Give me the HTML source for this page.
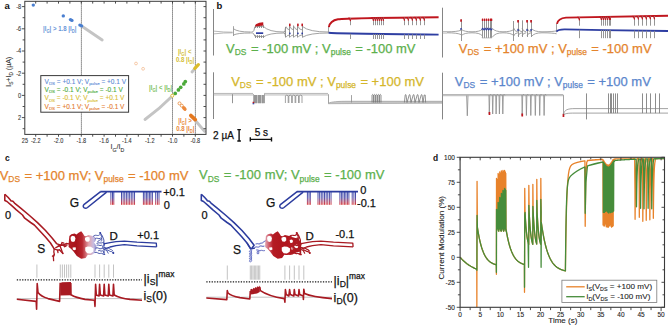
<!DOCTYPE html>
<html><head><meta charset="utf-8"><style>
html,body{margin:0;padding:0;background:#fff;}
svg{display:block;font-family:"Liberation Sans",sans-serif;}
</style></head><body>
<svg width="668" height="326" viewBox="0 0 668 326">
<rect width="668" height="326" fill="#fff"/>
<defs></defs>
<clipPath id="dclip"><rect x="460.1" y="157.3" width="204.39999999999998" height="150.0"/></clipPath>
<g clip-path="url(#dclip)">
<path d="M460.1,257.3 L460.53,257.78 L460.96,258.26 L461.38,258.72 L461.81,259.16 L462.24,259.6 L462.67,260.02 L463.09,260.44 L463.52,260.84 L463.95,261.23 L464.38,261.61 L464.81,261.98 L465.23,262.34 L465.66,262.7 L466.09,263.04 L466.52,263.37 L466.94,263.7 L467.37,264.02 L467.8,264.32 L468.23,264.62 L468.66,264.92 L469.08,265.2 L469.51,265.48 L469.94,265.75 L470.37,266.01 L470.79,266.27 L471.22,266.52 L471.65,266.76 L472.08,267 L472.51,267.23 L472.93,267.45 L473.36,267.67 L473.79,267.88 L474.22,268.09 L474.64,268.29 L475.07,268.48 L475.5,268.68 L475.93,268.86 L476.36,269.04 L476.78,269.22 L476.86,307.3 L477.06,181.3 L477.39,227.3 L477.39,227.3 L477.59,228.64 L477.79,229.93 L478,231.17 L478.2,232.38 L478.4,233.54 L478.6,234.66 L478.81,235.74 L479.01,236.79 L479.21,237.8 L479.42,238.78 L479.62,239.72 L479.82,240.63 L480.03,241.51 L480.23,242.36 L480.43,243.18 L480.64,243.97 L480.84,244.74 L481.04,245.47 L481.25,246.19 L481.45,246.88 L481.65,247.54 L481.86,248.18 L482.06,248.8 L482.26,249.4 L482.47,249.98 L482.67,250.54 L482.87,251.08 L483.07,251.6 L483.28,252.11 L483.48,252.59 L483.68,253.06 L483.89,253.52 L484.09,253.95 L484.29,254.38 L484.5,254.78 L484.7,255.18 L484.9,255.56 L485.11,255.93 L485.31,256.28 L485.51,256.63 L485.72,256.96 L485.92,257.28 L486.12,257.59 L486.33,257.89 L486.53,258.17 L486.73,258.45 L486.93,258.72 L487.14,258.98 L487.34,259.23 L487.54,259.47 L487.75,259.71 L487.95,259.93 L488.15,260.15 L488.36,260.36 L488.56,260.56 L488.76,260.76 L488.97,260.95 L489.17,261.13 L489.37,261.31 L489.58,261.48 L489.78,261.65 L489.98,261.81 L490.19,261.96 L490.39,262.11 L490.59,262.25 L490.79,262.39 L491,262.53 L491.2,262.65 L491.4,262.78 L491.61,262.9 L491.81,263.02 L492.01,263.13 L492.22,263.24 L492.42,263.34 L492.62,263.44 L492.83,263.54 L493.03,263.64 L493.23,263.73 L493.44,263.82 L493.64,263.9 L493.84,263.98 L494.05,264.06 L494.25,264.14 L494.45,264.21 L494.65,264.28 L494.86,264.35 L495.06,264.42 L495.26,264.48 L495.47,264.55 L495.67,264.61 L495.87,264.66 L496.08,264.72 L496.28,264.77 L496.4,274.3 L496.52,178.3 L496.72,229.3 L496.92,179.3 L497.12,227.62 L497.33,180.3 L497.53,227.48 L497.73,181.3 L497.93,229.02 L498.13,173.3 L498.33,230.81 L498.53,174.3 L498.73,231.22 L498.93,175.3 L499.13,229.86 L499.34,176.3 L499.54,227.99 L499.74,171.8 L499.94,227.32 L500.14,172.8 L500.34,228.48 L500.54,173.8 L500.74,230.39 L500.94,174.8 L501.14,231.3 L501.35,170.8 L501.55,230.37 L501.75,171.8 L501.95,228.46 L502.15,172.8 L502.35,227.32 L502.55,173.8 L502.75,228 L502.95,170.3 L503.15,229.88 L503.36,171.3 L503.56,231.22 L503.76,172.3 L503.96,230.8 L504.16,173.3 L504.36,229 L504.56,170.3 L504.76,227.47 L504.96,171.3 L505.16,227.63 L505.37,172.3 L505.57,229.32 L505.77,173.3 L505.97,230.99 L505.73,227.3 L505.93,228.59 L506.13,229.84 L506.34,231.05 L506.54,232.22 L506.74,233.35 L506.95,234.44 L507.15,235.49 L507.35,236.52 L507.56,237.5 L507.76,238.46 L507.96,239.38 L508.17,240.27 L508.37,241.13 L508.57,241.97 L508.77,242.77 L508.98,243.55 L509.18,244.31 L509.38,245.04 L509.59,245.74 L509.79,246.42 L509.99,247.08 L510.2,247.72 L510.4,248.33 L510.6,248.93 L510.81,249.5 L511.01,250.06 L511.21,250.6 L511.42,251.12 L511.62,251.62 L511.82,252.11 L512.03,252.58 L512.23,253.03 L512.43,253.47 L512.64,253.9 L512.84,254.31 L513.04,254.71 L513.24,255.09 L513.45,255.46 L513.65,255.82 L513.85,256.17 L514.06,256.5 L514.26,256.83 L514.46,257.14 L514.67,257.45 L514.87,257.74 L515.07,258.02 L515.28,258.3 L515.48,258.56 L515.68,258.82 L515.89,259.07 L516.09,259.31 L516.29,259.54 L516.5,259.76 L516.7,259.98 L516.9,260.19 L517.11,260.39 L517.31,260.59 L517.51,260.78 L517.71,260.96 L517.92,261.14 L518.12,261.31 L518.32,261.47 L518.53,261.63 L518.73,261.79 L518.93,261.94 L519.14,262.08 L519.34,262.22 L519.54,262.36 L519.75,262.49 L519.95,262.61 L520.15,262.73 L520.36,262.85 L520.56,262.97 L520.76,263.08 L520.97,263.18 L521.17,263.29 L521.37,263.39 L521.58,263.48 L521.78,263.58 L521.98,263.67 L522.18,263.75 L522.39,263.84 L522.59,263.92 L522.79,264 L523,264.08 L523.2,264.15 L523.4,264.22 L523.61,264.29 L523.81,264.36 L524.01,264.42 L524.22,264.48 L524.42,264.54 L524.5,292.3 L524.74,188.3 L525.06,212.3 L525.06,212.3 L525.28,216.49 L525.5,220.21 L525.72,223.51 L525.93,226.43 L526.15,229.02 L526.37,231.32 L526.59,233.36 L526.8,235.16 L527.02,236.76 L527.24,238.18 L527.46,239.44 L527.67,240.56 L527.89,241.55 L528.11,242.43 L528.33,243.21 L528.54,243.9 L528.76,244.51 L528.84,185.3 L529.16,212.3 L529.16,212.3 L529.38,216.41 L529.59,220.06 L529.8,223.3 L530.01,226.19 L530.23,228.75 L530.44,231.03 L530.65,233.06 L530.87,234.86 L531.08,236.47 L531.29,237.89 L531.5,239.16 L531.72,240.28 L531.93,241.28 L532.14,242.17 L532.36,242.96 L532.57,243.67 L532.78,244.29 L532.86,184.3 L533.18,212.3 L533.18,212.3 L533.4,216.56 L533.63,220.32 L533.85,223.66 L534.07,226.61 L534.29,229.22 L534.51,231.53 L534.73,233.57 L534.95,235.38 L535.17,236.98 L535.39,238.4 L535.62,239.65 L535.84,240.76 L536.06,241.75 L536.28,242.62 L536.5,243.38 L536.72,244.07 L536.8,179.3 L537.12,212.3 L537.12,212.3 L537.34,216.41 L537.55,220.06 L537.76,223.3 L537.97,226.19 L538.19,228.75 L538.4,231.03 L538.61,233.06 L538.83,234.86 L539.04,236.47 L539.25,237.89 L539.46,239.16 L539.68,240.28 L539.89,241.28 L540.1,242.17 L540.32,242.96 L540.53,243.67 L540.74,244.29 L540.82,178.3 L541.14,212.3 L541.3,222.3 L541.51,223.76 L541.71,225.18 L541.91,226.56 L542.11,227.89 L542.32,229.19 L542.52,230.45 L542.72,231.67 L542.93,232.86 L543.13,234.01 L543.33,235.13 L543.53,236.22 L543.74,237.27 L543.94,238.3 L544.14,239.29 L544.34,240.26 L544.55,241.19 L544.75,242.1 L544.95,242.98 L545.16,243.84 L545.36,244.67 L545.56,245.48 L545.76,246.26 L545.97,247.02 L546.17,247.76 L546.37,248.48 L546.57,249.18 L546.78,249.85 L546.98,250.51 L547.18,251.14 L547.38,251.76 L547.59,252.36 L547.79,252.95 L547.99,253.51 L548.2,254.06 L548.4,254.59 L548.6,255.11 L548.8,255.61 L549.01,256.1 L549.21,256.57 L549.41,257.03 L549.61,257.48 L549.82,257.91 L550.02,258.33 L550.22,258.74 L550.43,259.14 L550.63,259.52 L550.83,259.9 L551.03,260.26 L551.24,260.61 L551.44,260.95 L551.64,261.28 L551.84,261.61 L552.05,261.92 L552.25,262.22 L552.45,262.52 L552.65,262.8 L552.86,263.08 L553.06,263.35 L553.26,263.61 L553.47,263.86 L553.67,264.11 L553.87,264.35 L554.07,264.58 L554.28,264.81 L554.48,265.03 L554.68,265.24 L554.88,265.45 L555.09,265.65 L555.29,265.84 L555.49,266.03 L555.69,266.21 L555.9,266.39 L556.1,266.56 L556.3,266.73 L556.51,266.89 L556.71,267.05 L556.91,267.2 L557.11,267.35 L557.32,267.5 L557.52,267.64 L557.72,267.77 L557.92,267.91 L558.13,268.04 L558.33,268.16 L558.53,268.28 L558.74,268.4 L558.94,268.51 L559.14,268.62 L559.34,268.73 L559.55,268.83 L559.75,268.94 L559.95,269.03 L560.15,269.13 L560.36,269.22 L560.56,269.31 L560.76,269.4 L560.96,269.48 L561.17,269.57 L561.37,269.65 L561.57,269.72 L561.78,269.8 L561.98,269.87 L562.18,269.94 L562.38,270.01 L562.59,270.08 L562.79,270.14 L562.99,270.21 L563.19,270.27 L563.4,270.33 L563.6,270.39 L563.8,270.44 L564.01,270.5 L564.21,270.55 L564.41,270.6 L564.61,270.65 L564.82,270.7 L565.02,270.74 L565.22,270.79 L565.42,270.83 L565.42,269.3 L565.59,256.49 L565.75,245.26 L565.91,235.43 L566.07,226.82 L566.24,219.27 L566.4,212.65 L566.56,206.85 L566.72,201.76 L566.89,197.3 L567.05,193.38 L567.21,189.94 L567.37,186.93 L567.54,184.28 L567.7,181.95 L567.86,179.9 L568.02,178.09 L568.19,176.51 L568.35,175.11 L568.51,173.87 L568.67,172.78 L568.84,171.82 L569,170.97 L569.16,170.21 L569.32,169.54 L569.49,168.95 L569.65,168.42 L569.81,167.94 L569.97,167.52 L570.14,167.14 L570.3,166.8 L570.46,166.5 L570.62,166.22 L570.79,165.97 L570.95,165.74 L571.11,165.53 L571.27,165.34 L571.44,165.17 L571.6,165.01 L571.76,164.86 L571.92,164.73 L572.09,164.6 L572.25,164.48 L572.41,164.37 L572.57,164.26 L572.74,164.16 L572.9,164.07 L573.06,163.98 L573.22,163.9 L573.39,163.81 L573.55,163.74 L573.71,163.66 L573.87,163.59 L574.04,163.52 L574.2,163.45 L574.36,163.39 L574.52,163.32 L574.69,163.26 L574.85,163.2 L575.01,163.14 L575.17,163.08 L575.33,163.03 L575.5,162.97 L575.66,162.92 L575.82,162.87 L575.98,162.81 L576.15,162.76 L576.31,162.71 L576.47,162.66 L576.63,162.61 L576.8,162.57 L576.96,162.52 L577.12,162.47 L577.28,162.43 L577.45,162.38 L577.61,162.34 L577.77,162.29 L577.93,162.25 L578.1,162.21 L578.26,162.17 L578.42,162.13 L578.58,162.09 L578.75,162.05 L578.91,162.01 L579.07,161.97 L579.23,161.93 L579.4,161.89 L579.56,161.85 L579.72,161.81 L579.88,161.78 L580.05,161.74 L580.21,161.71 L580.37,161.67 L580.53,161.64 L580.7,161.6 L580.86,161.57 L581.02,161.53 L581.18,161.5 L581.35,161.47 L581.51,161.44 L581.67,161.4 L581.83,161.37 L582,161.34 L582.16,161.31 L582.32,161.28 L582.48,161.25 L582.65,161.22 L582.81,161.19 L582.97,161.16 L583.13,161.13 L583.3,161.11 L583.46,161.08 L583.62,161.05 L583.78,161.02 L583.95,161 L584.11,160.97 L584.27,160.94 L584.43,160.92 L584.6,160.89 L584.76,160.87 L584.92,160.84 L585.2,226.3 L585.73,177.3 L586.73,162.59 L587.53,160.48 L587.7,160.46 L587.86,160.44 L588.03,160.42 L588.19,160.4 L588.35,160.38 L588.52,160.36 L588.68,160.35 L588.84,160.33 L589.01,160.31 L589.17,160.29 L589.34,160.27 L589.5,160.25 L589.66,160.24 L589.83,160.22 L589.99,160.2 L590.16,160.19 L590.32,160.17 L590.48,160.15 L590.65,160.14 L590.81,160.12 L590.98,160.1 L591.14,160.09 L591.3,160.07 L591.47,160.06 L591.63,160.04 L591.79,160.03 L591.96,160.01 L592.12,160 L592.29,159.98 L592.45,159.97 L592.61,159.95 L592.78,159.94 L592.94,159.93 L593.11,159.91 L593.27,159.9 L593.43,159.89 L593.6,159.87 L593.76,159.86 L593.92,159.85 L594.09,159.83 L594.25,159.82 L594.42,159.81 L594.58,159.8 L594.74,159.79 L594.91,159.77 L595.07,159.76 L595.24,159.75 L595.4,159.74 L595.56,159.73 L595.73,159.72 L595.89,159.7 L596.05,159.69 L596.22,159.68 L596.38,159.67 L596.55,159.66 L596.71,159.65 L596.87,159.64 L597.04,159.63 L597.2,159.62 L597.37,159.61 L597.53,159.6 L597.69,159.59 L597.86,159.58 L598.02,159.57 L598.18,159.56 L598.35,159.55 L598.51,159.54 L598.68,159.53 L598.84,159.53 L599,159.52 L599.17,159.51 L599.33,159.5 L599.5,159.49 L599.66,159.48 L599.82,159.47 L599.99,159.47 L600.15,159.46 L600.31,159.45 L600.48,159.44 L600.64,159.43 L600.81,159.42 L600.97,159.42 L601.13,159.41 L601.3,159.4 L601.46,159.39 L601.63,159.39 L601.79,159.38 L601.95,159.37 L602.12,159.37 L602.28,159.36 L602.45,159.35 L602.61,159.34 L587.53,160.48 L587.7,160.46 L587.86,160.44 L588.02,160.42 L588.18,160.4 L588.35,160.38 L588.51,160.37 L588.67,160.35 L588.83,160.33 L589,160.31 L589.16,160.29 L589.32,160.27 L589.48,160.26 L589.65,160.24 L589.81,160.22 L589.97,160.2 L590.13,160.19 L590.3,160.17 L590.46,160.15 L590.62,160.14 L590.78,160.12 L590.95,160.11 L591.11,160.09 L591.27,160.08 L591.43,160.06 L591.6,160.05 L591.76,160.03 L591.92,160.02 L592.08,160 L592.25,159.99 L592.41,159.97 L592.57,159.96 L592.73,159.94 L592.9,159.93 L593.06,159.92 L593.22,159.9 L593.38,159.89 L593.55,159.88 L593.71,159.86 L593.87,159.85 L594.03,159.84 L594.2,159.83 L594.36,159.81 L594.52,159.8 L594.68,159.79 L594.85,159.78 L595.01,159.77 L595.17,159.75 L595.33,159.74 L595.5,159.73 L595.66,159.72 L595.82,159.71 L595.98,159.7 L596.15,159.69 L596.31,159.68 L596.47,159.67 L596.63,159.66 L596.8,159.65 L596.96,159.64 L597.12,159.63 L597.28,159.62 L597.45,159.61 L597.61,159.6 L597.77,159.59 L597.93,159.58 L598.1,159.57 L598.26,159.56 L598.42,159.55 L598.58,159.54 L598.75,159.53 L598.91,159.52 L599.07,159.51 L599.23,159.5 L599.4,159.5 L599.56,159.49 L599.72,159.48 L599.88,159.47 L600.05,159.46 L600.21,159.45 L600.37,159.45 L600.53,159.44 L600.7,159.43 L600.86,159.42 L601.02,159.41 L601.18,159.41 L601.35,159.4 L601.51,159.39 L601.67,159.38 L601.83,159.38 L602,159.37 L602.16,159.36 L602.32,159.36 L602.48,159.35 L602.65,159.34 L602.81,159.34 L602.96,159.8 L603.08,225.1 L603.24,159.8 L603.49,160.7 L603.61,224.47 L603.77,160.7 L604.02,161.58 L604.14,226.14 L604.3,161.58 L604.55,162.4 L604.67,225.26 L604.84,162.4 L605.09,163.14 L605.21,223.73 L605.37,163.14 L605.62,163.79 L605.74,223.71 L605.9,163.79 L606.15,164.32 L606.27,226.8 L606.43,164.32 L606.68,164.73 L606.8,226.47 L606.97,164.73 L607.22,165.01 L607.34,227.09 L607.5,165.01 L607.75,165.14 L607.87,225.54 L608.03,165.14 L608.28,165.12 L608.4,227.18 L608.56,165.12 L608.81,164.96 L608.94,225.47 L609.1,164.96 L609.35,164.66 L609.47,224.7 L609.63,164.66 L609.88,164.21 L610,226.19 L610.16,164.21 L610.41,163.65 L610.53,224.59 L610.69,163.65 L610.95,162.97 L611.07,224.94 L611.23,162.97 L611.48,162.19 L611.6,227.2 L611.76,162.19 L612.01,161.34 L612.13,225.06 L612.29,161.34 L612.54,160.44 L612.66,226.26 L612.82,160.44 L613.08,159.49 L613.2,225.64 L613.36,159.49 L613.87,160.01 L614.67,158.99 L614.83,158.99 L614.99,158.99 L615.16,158.99 L615.32,158.98 L615.48,158.98 L615.65,158.98 L615.81,158.97 L615.97,158.97 L616.13,158.97 L616.3,158.96 L616.46,158.96 L616.62,158.96 L616.78,158.96 L616.95,158.95 L617.11,158.95 L617.27,158.95 L617.44,158.95 L617.6,158.94 L617.76,158.94 L617.92,158.94 L618.09,158.93 L618.25,158.93 L618.41,158.93 L618.58,158.93 L618.74,158.92 L618.9,158.92 L619.06,158.92 L619.23,158.92 L619.39,158.92 L619.55,158.91 L619.71,158.91 L619.88,158.91 L620.04,158.91 L620.2,158.9 L620.37,158.9 L620.53,158.9 L620.69,158.9 L620.85,158.89 L621.02,158.89 L621.18,158.89 L621.34,158.89 L621.5,158.89 L621.67,158.88 L621.83,158.88 L621.99,158.88 L622.16,158.88 L622.32,158.88 L622.48,158.87 L622.64,158.87 L622.81,158.87 L622.97,158.87 L623.13,158.87 L623.3,158.86 L623.46,158.86 L623.62,158.86 L623.78,158.86 L623.95,158.86 L624.11,158.86 L624.27,158.85 L624.43,158.85 L624.6,158.85 L624.76,158.85 L624.92,158.85 L625.09,158.84 L625.25,158.84 L625.41,158.84 L625.57,158.84 L625.74,158.84 L625.9,158.84 L626.06,158.83 L626.23,158.83 L626.39,158.83 L626.55,158.83 L626.71,158.83 L626.88,158.83 L627.04,158.82 L627.2,158.82 L627.36,158.82 L627.53,158.82 L627.69,158.82 L627.85,158.82 L628.02,158.82 L628.18,158.81 L628.34,158.81 L628.5,158.81 L628.67,158.81 L628.83,158.81 L628.99,158.81 L629.15,158.81 L629.32,158.8 L629.48,158.8 L629.64,158.8 L629.81,158.8 L629.97,158.8 L630.13,158.8 L630.29,158.8 L630.46,158.8 L630.62,158.79 L630.78,158.79 L630.95,158.79 L631.11,158.79 L631.27,158.79 L631.43,158.79 L631.6,158.79 L631.76,158.79 L631.92,158.78 L632.08,158.78 L632.25,158.78 L632.41,158.78 L632.57,158.78 L632.74,158.78 L632.9,158.78 L633.06,158.78 L633.22,158.77 L633.39,158.77 L633.55,158.77 L633.71,158.77 L633.87,158.77 L634.04,158.77 L634.2,158.77 L634.36,158.77 L634.53,158.77 L634.69,158.76 L634.77,173.9 L634.97,189.03 L635.09,219.3 L635.25,204.26 L635.46,190.31 L635.66,180.64 L635.87,173.93 L636.08,169.28 L636.28,166.06 L636.49,163.82 L636.69,162.27 L636.9,161.19 L637.1,158.75 L637.28,158.75 L637.46,158.75 L637.64,158.75 L637.82,158.75 L638.01,158.75 L638.19,158.74 L638.37,158.74 L638.55,158.74 L638.73,158.74 L638.91,158.74 L638.99,173.38 L639.19,188.02 L639.31,217.3 L639.47,202.75 L639.68,189.26 L639.88,179.9 L640.09,173.41 L640.3,168.91 L640.5,165.8 L640.71,163.63 L640.91,162.13 L641.12,161.09 L641.32,158.73 L641.54,158.73 L641.76,158.73 L641.97,158.73 L642.19,158.72 L642.41,158.72 L642.49,174.37 L642.69,190.01 L642.81,221.3 L642.97,205.75 L643.18,191.33 L643.38,181.34 L643.59,174.4 L643.79,169.6 L644,166.26 L644.21,163.95 L644.41,162.35 L644.62,161.24 L644.82,158.71 L645.02,158.71 L645.22,158.71 L645.42,158.71 L645.62,158.71 L645.82,158.71 L645.9,174.11 L646.11,189.5 L646.23,220.3 L646.39,204.99 L646.59,190.8 L646.8,180.96 L647,174.14 L647.21,169.41 L647.42,166.13 L647.62,163.85 L647.83,162.28 L648.03,161.18 L648.24,158.7 L648.44,158.7 L648.64,158.7 L648.84,158.7 L649.04,158.7 L649.24,158.7 L649.44,158.7 L649.52,173.97 L649.72,189.25 L649.84,219.8 L650,204.61 L650.21,190.54 L650.42,180.78 L650.62,174.01 L650.83,169.31 L651.03,166.06 L651.24,163.8 L651.45,162.24 L651.65,161.15 L651.85,158.69 L652.07,158.69 L652.29,158.69 L652.51,158.69 L652.72,158.69 L652.94,158.68 L653.02,173.59 L653.22,188.49 L653.34,218.3 L653.5,203.48 L653.71,189.75 L653.91,180.23 L654.12,173.62 L654.33,169.04 L654.53,165.87 L654.74,163.67 L654.94,162.14 L655.15,161.08 L655.35,158.68 L655.52,158.68 L655.68,158.68 L655.84,158.68 L656.01,158.68 L656.17,158.68 L656.34,158.68 L656.5,158.67 L656.67,158.67 L656.83,158.67 L656.99,158.67 L657.16,158.67 L657.32,158.67 L657.49,158.67 L657.65,158.67 L657.82,158.67 L657.98,158.67 L658.14,158.67 L658.31,158.67 L658.47,158.67 L658.64,158.67 L658.8,158.67 L658.97,158.67 L659.13,158.67 L659.3,158.67 L659.46,158.67 L659.62,158.67 L659.79,158.67 L659.95,158.67 L660.12,158.67 L660.28,158.67 L660.45,158.67 L660.61,158.67 L660.77,158.66 L660.94,158.66 L661.1,158.66 L661.27,158.66 L661.43,158.66 L661.6,158.66 L661.76,158.66 L661.92,158.66 L662.09,158.66 L662.25,158.66 L662.42,158.66 L662.58,158.66 L662.75,158.66 L662.91,158.66 L663.07,158.66 L663.24,158.66 L663.4,158.66 L663.57,158.66 L663.73,158.66 L663.9,158.66 L664.06,158.66 L664.23,158.66 L664.39,158.66 L664.55,158.66 L664.72,158.66" fill="none" stroke="#e8822a" stroke-width="1.3" stroke-linejoin="round"/>
<path d="M460.1,257.3 L460.53,257.78 L460.96,258.26 L461.38,258.72 L461.81,259.16 L462.24,259.6 L462.67,260.02 L463.09,260.44 L463.52,260.84 L463.95,261.23 L464.38,261.61 L464.81,261.98 L465.23,262.34 L465.66,262.7 L466.09,263.04 L466.52,263.37 L466.94,263.7 L467.37,264.02 L467.8,264.32 L468.23,264.62 L468.66,264.92 L469.08,265.2 L469.51,265.48 L469.94,265.75 L470.37,266.01 L470.79,266.27 L471.22,266.52 L471.65,266.76 L472.08,267 L472.51,267.23 L472.93,267.45 L473.36,267.67 L473.79,267.88 L474.22,268.09 L474.64,268.29 L475.07,268.48 L475.5,268.68 L475.93,268.86 L476.36,269.04 L476.78,269.22 L476.9,270.3 L477.06,215.3 L477.39,227.3 L477.39,227.3 L477.59,228.64 L477.79,229.93 L478,231.17 L478.2,232.38 L478.4,233.54 L478.6,234.66 L478.81,235.74 L479.01,236.79 L479.21,237.8 L479.42,238.78 L479.62,239.72 L479.82,240.63 L480.03,241.51 L480.23,242.36 L480.43,243.18 L480.64,243.97 L480.84,244.74 L481.04,245.47 L481.25,246.19 L481.45,246.88 L481.65,247.54 L481.86,248.18 L482.06,248.8 L482.26,249.4 L482.47,249.98 L482.67,250.54 L482.87,251.08 L483.07,251.6 L483.28,252.11 L483.48,252.59 L483.68,253.06 L483.89,253.52 L484.09,253.95 L484.29,254.38 L484.5,254.78 L484.7,255.18 L484.9,255.56 L485.11,255.93 L485.31,256.28 L485.51,256.63 L485.72,256.96 L485.92,257.28 L486.12,257.59 L486.33,257.89 L486.53,258.17 L486.73,258.45 L486.93,258.72 L487.14,258.98 L487.34,259.23 L487.54,259.47 L487.75,259.71 L487.95,259.93 L488.15,260.15 L488.36,260.36 L488.56,260.56 L488.76,260.76 L488.97,260.95 L489.17,261.13 L489.37,261.31 L489.58,261.48 L489.78,261.65 L489.98,261.81 L490.19,261.96 L490.39,262.11 L490.59,262.25 L490.79,262.39 L491,262.53 L491.2,262.65 L491.4,262.78 L491.61,262.9 L491.81,263.02 L492.01,263.13 L492.22,263.24 L492.42,263.34 L492.62,263.44 L492.83,263.54 L493.03,263.64 L493.23,263.73 L493.44,263.82 L493.64,263.9 L493.84,263.98 L494.05,264.06 L494.25,264.14 L494.45,264.21 L494.65,264.28 L494.86,264.35 L495.06,264.42 L495.26,264.48 L495.47,264.55 L495.67,264.61 L495.87,264.66 L496.08,264.72 L496.28,264.77 L496.4,272.3 L496.52,209.3 L496.72,229.3 L496.92,209.97 L497.12,227.62 L497.33,210.63 L497.53,227.48 L497.73,211.3 L497.93,229.02 L498.13,202.3 L498.33,230.81 L498.53,202.97 L498.73,231.22 L498.93,203.63 L499.13,229.86 L499.34,204.3 L499.54,227.99 L499.74,197.3 L499.94,227.32 L500.14,197.97 L500.34,228.48 L500.54,198.63 L500.74,230.39 L500.94,199.3 L501.14,231.3 L501.35,193.3 L501.55,230.37 L501.75,193.97 L501.95,228.46 L502.15,194.63 L502.35,227.32 L502.55,195.3 L502.75,228 L502.95,190.3 L503.15,229.88 L503.36,190.97 L503.56,231.22 L503.76,191.63 L503.96,230.8 L504.16,192.3 L504.36,229 L504.56,188.3 L504.76,227.47 L504.96,188.97 L505.16,227.63 L505.37,189.63 L505.57,229.32 L505.77,190.3 L505.97,230.99 L505.73,227.3 L505.93,228.59 L506.13,229.84 L506.34,231.05 L506.54,232.22 L506.74,233.35 L506.95,234.44 L507.15,235.49 L507.35,236.52 L507.56,237.5 L507.76,238.46 L507.96,239.38 L508.17,240.27 L508.37,241.13 L508.57,241.97 L508.77,242.77 L508.98,243.55 L509.18,244.31 L509.38,245.04 L509.59,245.74 L509.79,246.42 L509.99,247.08 L510.2,247.72 L510.4,248.33 L510.6,248.93 L510.81,249.5 L511.01,250.06 L511.21,250.6 L511.42,251.12 L511.62,251.62 L511.82,252.11 L512.03,252.58 L512.23,253.03 L512.43,253.47 L512.64,253.9 L512.84,254.31 L513.04,254.71 L513.24,255.09 L513.45,255.46 L513.65,255.82 L513.85,256.17 L514.06,256.5 L514.26,256.83 L514.46,257.14 L514.67,257.45 L514.87,257.74 L515.07,258.02 L515.28,258.3 L515.48,258.56 L515.68,258.82 L515.89,259.07 L516.09,259.31 L516.29,259.54 L516.5,259.76 L516.7,259.98 L516.9,260.19 L517.11,260.39 L517.31,260.59 L517.51,260.78 L517.71,260.96 L517.92,261.14 L518.12,261.31 L518.32,261.47 L518.53,261.63 L518.73,261.79 L518.93,261.94 L519.14,262.08 L519.34,262.22 L519.54,262.36 L519.75,262.49 L519.95,262.61 L520.15,262.73 L520.36,262.85 L520.56,262.97 L520.76,263.08 L520.97,263.18 L521.17,263.29 L521.37,263.39 L521.58,263.48 L521.78,263.58 L521.98,263.67 L522.18,263.75 L522.39,263.84 L522.59,263.92 L522.79,264 L523,264.08 L523.2,264.15 L523.4,264.22 L523.61,264.29 L523.81,264.36 L524.01,264.42 L524.22,264.48 L524.42,264.54 L524.5,287.3 L524.74,214.3 L525.06,212.3 L525.06,212.3 L525.28,216.49 L525.5,220.21 L525.72,223.51 L525.93,226.43 L526.15,229.02 L526.37,231.32 L526.59,233.36 L526.8,235.16 L527.02,236.76 L527.24,238.18 L527.46,239.44 L527.67,240.56 L527.89,241.55 L528.11,242.43 L528.52,267.3 L528.64,243.9 L528.76,244.51 L528.84,205.3 L529.16,212.3 L529.16,212.3 L529.38,216.41 L529.59,220.06 L529.8,223.3 L530.01,226.19 L530.23,228.75 L530.44,231.03 L530.65,233.06 L530.87,234.86 L531.08,236.47 L531.29,237.89 L531.5,239.16 L531.72,240.28 L531.93,241.28 L532.14,242.17 L532.36,242.96 L532.57,243.67 L532.78,244.29 L532.86,206.3 L533.18,212.3 L533.18,212.3 L533.4,216.56 L533.63,220.32 L533.85,223.66 L534.07,226.61 L534.29,229.22 L534.51,231.53 L534.73,233.57 L534.95,235.38 L535.17,236.98 L535.39,238.4 L535.62,239.65 L535.84,240.76 L536.06,241.75 L536.28,242.62 L536.5,243.38 L536.72,244.07 L536.8,200.3 L537.12,212.3 L537.12,212.3 L537.34,216.41 L537.55,220.06 L537.76,223.3 L537.97,226.19 L538.19,228.75 L538.4,231.03 L538.61,233.06 L538.83,234.86 L539.04,236.47 L539.25,237.89 L539.46,239.16 L539.68,240.28 L539.89,241.28 L540.1,242.17 L540.32,242.96 L540.53,243.67 L540.74,244.29 L540.82,199.3 L541.14,212.3 L540.98,222.3 L541.1,267.3 L541.3,227.3 L541.3,222.3 L541.51,223.76 L541.71,225.18 L541.91,226.56 L542.11,227.89 L542.32,229.19 L542.52,230.45 L542.72,231.67 L542.93,232.86 L543.13,234.01 L543.33,235.13 L543.53,236.22 L543.74,237.27 L543.94,238.3 L544.14,239.29 L544.34,240.26 L544.55,241.19 L544.75,242.1 L544.95,242.98 L545.16,243.84 L545.36,244.67 L545.56,245.48 L545.76,246.26 L545.97,247.02 L546.17,247.76 L546.37,248.48 L546.57,249.18 L546.78,249.85 L546.98,250.51 L547.18,251.14 L547.38,251.76 L547.59,252.36 L547.79,252.95 L547.99,253.51 L548.2,254.06 L548.4,254.59 L548.6,255.11 L548.8,255.61 L549.01,256.1 L549.21,256.57 L549.41,257.03 L549.61,257.48 L549.82,257.91 L550.02,258.33 L550.22,258.74 L550.43,259.14 L550.63,259.52 L550.83,259.9 L551.03,260.26 L551.24,260.61 L551.44,260.95 L551.64,261.28 L551.84,261.61 L552.05,261.92 L552.25,262.22 L552.45,262.52 L552.65,262.8 L552.86,263.08 L553.06,263.35 L553.26,263.61 L553.47,263.86 L553.67,264.11 L553.87,264.35 L554.07,264.58 L554.28,264.81 L554.48,265.03 L554.68,265.24 L554.88,265.45 L555.09,265.65 L555.29,265.84 L555.49,266.03 L555.69,266.21 L555.9,266.39 L556.1,266.56 L556.3,266.73 L556.51,266.89 L556.71,267.05 L556.91,267.2 L557.11,267.35 L557.32,267.5 L557.52,267.64 L557.72,267.77 L557.92,267.91 L558.13,268.04 L558.33,268.16 L558.53,268.28 L558.74,268.4 L558.94,268.51 L559.14,268.62 L559.34,268.73 L559.55,268.83 L559.75,268.94 L559.95,269.03 L560.15,269.13 L560.36,269.22 L560.56,269.31 L560.76,269.4 L560.96,269.48 L561.17,269.57 L561.37,269.65 L561.57,269.72 L561.78,269.8 L561.98,269.87 L562.18,269.94 L562.38,270.01 L562.59,270.08 L562.79,270.14 L562.99,270.21 L563.19,270.27 L563.4,270.33 L563.6,270.39 L563.8,270.44 L564.01,270.5 L564.21,270.55 L564.41,270.6 L564.61,270.65 L564.82,270.7 L565.02,270.74 L565.22,270.79 L565.42,270.83 L565.42,269.3 L565.59,253.15 L565.75,239.9 L565.91,229.02 L566.07,220.07 L566.24,212.72 L566.4,206.67 L566.56,201.68 L566.72,197.57 L566.89,194.17 L567.05,191.35 L567.21,189.02 L567.37,187.08 L567.54,185.46 L567.7,184.11 L567.86,182.97 L568.02,182.01 L568.19,181.19 L568.35,180.5 L568.51,179.9 L568.67,179.38 L568.84,178.93 L569,178.53 L569.16,178.18 L569.32,177.86 L569.49,177.58 L569.65,177.32 L569.81,177.08 L569.97,176.85 L570.14,176.65 L570.3,176.45 L570.46,176.26 L570.62,176.08 L570.79,175.91 L570.95,175.75 L571.11,175.59 L571.27,175.43 L571.44,175.28 L571.6,175.13 L571.76,174.99 L571.92,174.85 L572.09,174.7 L572.25,174.57 L572.41,174.43 L572.57,174.3 L572.74,174.16 L572.9,174.03 L573.06,173.9 L573.22,173.77 L573.39,173.65 L573.55,173.52 L573.71,173.39 L573.87,173.27 L574.04,173.15 L574.2,173.03 L574.36,172.91 L574.52,172.79 L574.69,172.67 L574.85,172.55 L575.01,172.44 L575.17,172.32 L575.33,172.21 L575.5,172.1 L575.66,171.98 L575.82,171.87 L575.98,171.76 L576.15,171.65 L576.31,171.55 L576.47,171.44 L576.63,171.33 L576.8,171.23 L576.96,171.12 L577.12,171.02 L577.28,170.92 L577.45,170.81 L577.61,170.71 L577.77,170.61 L577.93,170.51 L578.1,170.42 L578.26,170.32 L578.42,170.22 L578.58,170.12 L578.75,170.03 L578.91,169.94 L579.07,169.84 L579.23,169.75 L579.4,169.66 L579.56,169.57 L579.72,169.48 L579.88,169.39 L580.05,169.3 L580.21,169.21 L580.37,169.12 L580.53,169.04 L580.7,168.95 L580.86,168.86 L581.02,168.78 L581.18,168.7 L581.35,168.61 L581.51,168.53 L581.67,168.45 L581.83,168.37 L582,168.29 L582.16,168.21 L582.32,168.13 L582.48,168.05 L582.65,167.97 L582.81,167.9 L582.97,167.82 L583.13,167.74 L583.3,167.67 L583.46,167.6 L583.62,167.52 L583.78,167.45 L583.95,167.38 L584.11,167.3 L584.27,167.23 L584.43,167.16 L584.6,167.09 L584.76,167.02 L584.92,166.95 L585.2,213.3 L585.93,182.3 L587.13,169.07 L587.53,165.92 L587.7,165.86 L587.86,165.8 L588.03,165.74 L588.19,165.68 L588.35,165.63 L588.52,165.57 L588.68,165.51 L588.84,165.45 L589.01,165.4 L589.17,165.34 L589.34,165.29 L589.5,165.23 L589.66,165.18 L589.83,165.12 L589.99,165.07 L590.16,165.02 L590.32,164.97 L590.48,164.91 L590.65,164.86 L590.81,164.81 L590.98,164.76 L591.14,164.71 L591.3,164.66 L591.47,164.61 L591.63,164.56 L591.79,164.51 L591.96,164.46 L592.12,164.42 L592.29,164.37 L592.45,164.32 L592.61,164.27 L592.78,164.23 L592.94,164.18 L593.11,164.14 L593.27,164.09 L593.43,164.05 L593.6,164 L593.76,163.96 L593.92,163.91 L594.09,163.87 L594.25,163.83 L594.42,163.79 L594.58,163.74 L594.74,163.7 L594.91,163.66 L595.07,163.62 L595.24,163.58 L595.4,163.54 L595.56,163.5 L595.73,163.46 L595.89,163.42 L596.05,163.38 L596.22,163.34 L596.38,163.3 L596.55,163.26 L596.71,163.23 L596.87,163.19 L597.04,163.15 L597.2,163.11 L597.37,163.08 L597.53,163.04 L597.69,163 L597.86,162.97 L598.02,162.93 L598.18,162.9 L598.35,162.86 L598.51,162.83 L598.68,162.79 L598.84,162.76 L599,162.73 L599.17,162.69 L599.33,162.66 L599.5,162.63 L599.66,162.59 L599.82,162.56 L599.99,162.53 L600.15,162.5 L600.31,162.47 L600.48,162.43 L600.64,162.4 L600.81,162.37 L600.97,162.34 L601.13,162.31 L601.3,162.28 L601.46,162.25 L601.63,162.22 L601.79,162.19 L601.95,162.16 L602.12,162.14 L602.28,162.11 L602.45,162.08 L602.61,162.05 L587.53,165.92 L587.7,165.86 L587.86,165.8 L588.03,165.74 L588.19,165.68 L588.35,165.63 L588.52,165.57 L588.68,165.51 L588.85,165.45 L589.01,165.4 L589.18,165.34 L589.34,165.29 L589.5,165.23 L589.67,165.18 L589.83,165.12 L590,165.07 L590.16,165.02 L590.33,164.96 L590.49,164.91 L590.65,164.86 L590.82,164.81 L590.98,164.76 L591.15,164.71 L591.31,164.66 L591.47,164.61 L591.64,164.56 L591.8,164.51 L591.97,164.46 L592.13,164.41 L592.3,164.37 L592.46,164.32 L592.62,164.27 L592.79,164.23 L592.95,164.18 L593.12,164.13 L593.28,164.09 L593.44,164.04 L593.61,164 L593.77,163.95 L593.94,163.91 L594.1,163.87 L594.27,163.82 L594.43,163.78 L594.59,163.74 L594.76,163.7 L594.92,163.66 L595.09,163.62 L595.25,163.57 L595.41,163.53 L595.58,163.49 L595.74,163.45 L595.91,163.41 L596.07,163.37 L596.24,163.34 L596.4,163.3 L596.56,163.26 L596.73,163.22 L596.89,163.18 L597.06,163.15 L597.22,163.11 L597.39,163.07 L597.55,163.04 L597.71,163 L597.88,162.96 L598.04,162.93 L598.21,162.89 L598.37,162.86 L598.53,162.82 L598.7,162.79 L598.86,162.76 L599.03,162.72 L599.19,162.69 L599.36,162.65 L599.52,162.62 L599.68,162.59 L599.85,162.56 L600.01,162.52 L600.18,162.49 L600.34,162.46 L600.5,162.43 L600.67,162.4 L600.83,162.37 L601,162.34 L601.16,162.31 L601.33,162.28 L601.49,162.25 L601.65,162.22 L601.82,162.19 L601.98,162.16 L602.15,162.13 L602.31,162.1 L602.47,162.07 L602.64,162.04 L602.8,162.02 L602.97,161.99 L603.13,161.96 L603.28,162.39 L603.4,212.41 L603.56,162.39 L603.82,163.23 L603.94,209.82 L604.1,163.23 L604.35,164.04 L604.47,212.47 L604.63,164.04 L604.89,164.8 L605.01,209.63 L605.17,164.8 L605.43,165.48 L605.55,211.35 L605.71,165.48 L605.96,166.07 L606.08,210.85 L606.24,166.07 L606.5,166.54 L606.62,210.24 L606.78,166.54 L607.04,166.9 L607.16,211.23 L607.32,166.9 L607.57,167.12 L607.69,212.11 L607.85,167.12 L608.11,167.19 L608.23,212.55 L608.39,167.19 L608.65,167.12 L608.77,212.98 L608.93,167.12 L609.18,166.91 L609.3,210.35 L609.46,166.91 L609.72,166.55 L609.84,211.53 L610,166.55 L610.26,166.06 L610.38,212.67 L610.54,166.06 L610.79,165.45 L610.91,209.78 L611.07,165.45 L611.33,164.72 L611.45,212.2 L611.61,164.72 L611.87,163.9 L611.99,211.64 L612.15,163.9 L612.4,163.01 L612.52,212.12 L612.68,163.01 L612.94,162.05 L613.06,210.78 L613.22,162.05 L613.48,161.07 L613.6,210.98 L613.76,161.07 L614.27,161.53 L615.07,160.46 L615.23,160.44 L615.4,160.43 L615.56,160.41 L615.72,160.4 L615.89,160.38 L616.05,160.37 L616.21,160.36 L616.37,160.34 L616.54,160.33 L616.7,160.31 L616.86,160.3 L617.03,160.29 L617.19,160.27 L617.35,160.26 L617.52,160.24 L617.68,160.23 L617.84,160.22 L618,160.2 L618.17,160.19 L618.33,160.18 L618.49,160.17 L618.66,160.15 L618.82,160.14 L618.98,160.13 L619.15,160.11 L619.31,160.1 L619.47,160.09 L619.63,160.08 L619.8,160.07 L619.96,160.05 L620.12,160.04 L620.29,160.03 L620.45,160.02 L620.61,160.01 L620.78,160 L620.94,159.98 L621.1,159.97 L621.26,159.96 L621.43,159.95 L621.59,159.94 L621.75,159.93 L621.92,159.92 L622.08,159.91 L622.24,159.89 L622.41,159.88 L622.57,159.87 L622.73,159.86 L622.89,159.85 L623.06,159.84 L623.22,159.83 L623.38,159.82 L623.55,159.81 L623.71,159.8 L623.87,159.79 L624.03,159.78 L624.2,159.77 L624.36,159.76 L624.52,159.75 L624.69,159.74 L624.85,159.73 L625.01,159.72 L625.18,159.71 L625.34,159.7 L625.5,159.7 L625.66,159.69 L625.83,159.68 L625.99,159.67 L626.15,159.66 L626.32,159.65 L626.48,159.64 L626.64,159.63 L626.81,159.62 L626.97,159.62 L627.13,159.61 L627.29,159.6 L627.46,159.59 L627.62,159.58 L627.78,159.57 L627.95,159.56 L628.11,159.56 L628.27,159.55 L628.44,159.54 L628.6,159.53 L628.76,159.52 L628.92,159.52 L629.09,159.51 L629.25,159.5 L629.41,159.49 L629.58,159.48 L629.74,159.48 L629.9,159.47 L630.07,159.46 L630.23,159.45 L630.39,159.45 L630.55,159.44 L630.72,159.43 L630.88,159.43 L631.04,159.42 L631.21,159.41 L631.37,159.4 L631.53,159.4 L631.7,159.39 L631.86,159.38 L632.02,159.38 L632.18,159.37 L632.35,159.36 L632.51,159.36 L632.67,159.35 L632.84,159.34 L633,159.34 L633.16,159.33 L633.32,159.32 L633.49,159.32 L633.65,159.31 L633.81,159.3 L633.98,159.3 L634.14,159.29 L634.3,159.28 L634.47,159.28 L634.63,159.27 L634.79,159.27 L634.95,159.26 L635.12,159.25 L635.28,159.25 L635.44,159.24 L635.61,159.24 L635.77,159.23 L635.93,159.23 L636.1,159.22 L636.18,171.1 L636.38,183 L636.5,206.8 L636.66,194.97 L636.86,184.01 L637.07,176.4 L637.28,171.13 L637.48,167.48 L637.69,164.94 L637.89,163.18 L638.1,161.96 L638.31,161.12 L638.51,159.14 L638.7,159.13 L638.88,159.13 L639.07,159.12 L639.26,159.12 L639.45,159.11 L639.63,159.1 L639.82,159.1 L640.01,159.09 L640.2,159.09 L640.28,171.38 L640.48,183.69 L640.6,208.3 L640.76,196.07 L640.96,184.73 L641.17,176.86 L641.38,171.41 L641.58,167.63 L641.79,165.01 L641.99,163.19 L642.2,161.93 L642.41,161.05 L642.61,159.02 L642.81,159.02 L643.01,159.01 L643.21,159 L643.41,159 L643.61,158.99 L643.69,171.44 L643.89,183.89 L644.01,208.8 L644.18,196.42 L644.38,184.94 L644.59,176.99 L644.79,171.47 L645,167.64 L645.21,164.99 L645.41,163.15 L645.62,161.87 L645.82,160.99 L646.02,158.94 L646.21,158.93 L646.4,158.93 L646.59,158.92 L646.78,158.92 L646.96,158.92 L647.15,158.91 L647.34,158.91 L647.53,158.9 L647.71,158.9 L647.79,171.24 L647.99,183.6 L648.12,208.3 L648.28,196.02 L648.48,184.64 L648.69,176.75 L648.89,171.27 L649.1,167.48 L649.31,164.84 L649.51,163.02 L649.72,161.75 L649.92,160.88 L650.13,158.85 L650.33,158.85 L650.53,158.84 L650.73,158.84 L650.93,158.83 L651.13,158.83 L651.33,158.83 L651.41,171.31 L651.61,183.81 L651.73,208.8 L651.89,196.38 L652.1,184.87 L652.31,176.88 L652.51,171.34 L652.72,167.51 L652.92,164.84 L653.13,163 L653.34,161.72 L653.54,160.83 L653.74,158.79 L653.91,158.78 L654.07,158.78 L654.23,158.78 L654.4,158.77 L654.56,158.77 L654.73,158.77 L654.89,158.77 L655.05,158.76 L655.22,158.76 L655.38,158.76 L655.55,158.76 L655.71,158.75 L655.87,158.75 L656.04,158.75 L656.2,158.75 L656.36,158.74 L656.53,158.74 L656.69,158.74 L656.86,158.74 L657.02,158.73 L657.18,158.73 L657.35,158.73 L657.51,158.73 L657.67,158.72 L657.84,158.72 L658,158.72 L658.17,158.72 L658.33,158.72 L658.49,158.71 L658.66,158.71 L658.82,158.71 L658.99,158.71 L659.15,158.7 L659.31,158.7 L659.48,158.7 L659.64,158.7 L659.8,158.7 L659.97,158.69 L660.13,158.69 L660.3,158.69 L660.46,158.69 L660.62,158.68 L660.79,158.68 L660.95,158.68 L661.11,158.68 L661.28,158.68 L661.44,158.67 L661.61,158.67 L661.77,158.67 L661.93,158.67 L662.1,158.67 L662.26,158.66 L662.42,158.66 L662.59,158.66 L662.75,158.66 L662.92,158.66 L663.08,158.65 L663.24,158.65 L663.41,158.65 L663.57,158.65 L663.74,158.65 L663.9,158.65 L664.06,158.64 L664.23,158.64 L664.39,158.64 L664.55,158.64 L664.72,158.64" fill="none" stroke="#468c3a" stroke-width="1.3" stroke-linejoin="round"/>
</g>
<rect x="460.1" y="157.3" width="204.39999999999998" height="150.0" fill="none" stroke="#3a3a3a" stroke-width="1.1"/>
<line x1="456.70000000000005" y1="307.3" x2="460.1" y2="307.3" stroke="#3a3a3a" stroke-width="0.9"/>
<line x1="661.5" y1="307.3" x2="664.5" y2="307.3" stroke="#3a3a3a" stroke-width="0.9"/>
<text x="454.9" y="309.6" font-size="6.5" text-anchor="end" fill="#222" stroke="#222" stroke-width="0.10">-50</text>
<line x1="456.70000000000005" y1="282.3" x2="460.1" y2="282.3" stroke="#3a3a3a" stroke-width="0.9"/>
<line x1="661.5" y1="282.3" x2="664.5" y2="282.3" stroke="#3a3a3a" stroke-width="0.9"/>
<text x="454.9" y="284.6" font-size="6.5" text-anchor="end" fill="#222" stroke="#222" stroke-width="0.10">-25</text>
<line x1="456.70000000000005" y1="257.3" x2="460.1" y2="257.3" stroke="#3a3a3a" stroke-width="0.9"/>
<line x1="661.5" y1="257.3" x2="664.5" y2="257.3" stroke="#3a3a3a" stroke-width="0.9"/>
<text x="454.9" y="259.6" font-size="6.5" text-anchor="end" fill="#222" stroke="#222" stroke-width="0.10">0</text>
<line x1="456.70000000000005" y1="232.3" x2="460.1" y2="232.3" stroke="#3a3a3a" stroke-width="0.9"/>
<line x1="661.5" y1="232.3" x2="664.5" y2="232.3" stroke="#3a3a3a" stroke-width="0.9"/>
<text x="454.9" y="234.6" font-size="6.5" text-anchor="end" fill="#222" stroke="#222" stroke-width="0.10">25</text>
<line x1="456.70000000000005" y1="207.3" x2="460.1" y2="207.3" stroke="#3a3a3a" stroke-width="0.9"/>
<line x1="661.5" y1="207.3" x2="664.5" y2="207.3" stroke="#3a3a3a" stroke-width="0.9"/>
<text x="454.9" y="209.6" font-size="6.5" text-anchor="end" fill="#222" stroke="#222" stroke-width="0.10">50</text>
<line x1="456.70000000000005" y1="182.3" x2="460.1" y2="182.3" stroke="#3a3a3a" stroke-width="0.9"/>
<line x1="661.5" y1="182.3" x2="664.5" y2="182.3" stroke="#3a3a3a" stroke-width="0.9"/>
<text x="454.9" y="184.6" font-size="6.5" text-anchor="end" fill="#222" stroke="#222" stroke-width="0.10">75</text>
<line x1="456.70000000000005" y1="157.3" x2="460.1" y2="157.3" stroke="#3a3a3a" stroke-width="0.9"/>
<line x1="661.5" y1="157.3" x2="664.5" y2="157.3" stroke="#3a3a3a" stroke-width="0.9"/>
<text x="454.9" y="159.6" font-size="6.5" text-anchor="end" fill="#222" stroke="#222" stroke-width="0.10">100</text>
<line x1="457.90000000000003" y1="294.8" x2="460.1" y2="294.8" stroke="#3a3a3a" stroke-width="0.9"/>
<line x1="662.5" y1="294.8" x2="664.5" y2="294.8" stroke="#3a3a3a" stroke-width="0.9"/>
<line x1="457.90000000000003" y1="269.8" x2="460.1" y2="269.8" stroke="#3a3a3a" stroke-width="0.9"/>
<line x1="662.5" y1="269.8" x2="664.5" y2="269.8" stroke="#3a3a3a" stroke-width="0.9"/>
<line x1="457.90000000000003" y1="244.8" x2="460.1" y2="244.8" stroke="#3a3a3a" stroke-width="0.9"/>
<line x1="662.5" y1="244.8" x2="664.5" y2="244.8" stroke="#3a3a3a" stroke-width="0.9"/>
<line x1="457.90000000000003" y1="219.8" x2="460.1" y2="219.8" stroke="#3a3a3a" stroke-width="0.9"/>
<line x1="662.5" y1="219.8" x2="664.5" y2="219.8" stroke="#3a3a3a" stroke-width="0.9"/>
<line x1="457.90000000000003" y1="194.8" x2="460.1" y2="194.8" stroke="#3a3a3a" stroke-width="0.9"/>
<line x1="662.5" y1="194.8" x2="664.5" y2="194.8" stroke="#3a3a3a" stroke-width="0.9"/>
<line x1="457.90000000000003" y1="169.8" x2="460.1" y2="169.8" stroke="#3a3a3a" stroke-width="0.9"/>
<line x1="662.5" y1="169.8" x2="664.5" y2="169.8" stroke="#3a3a3a" stroke-width="0.9"/>
<line x1="460.1" y1="307.3" x2="460.1" y2="311.1" stroke="#3a3a3a" stroke-width="0.9"/>
<line x1="460.1" y1="157.3" x2="460.1" y2="160.3" stroke="#3a3a3a" stroke-width="0.9"/>
<text x="460.1" y="317.3" font-size="6.5" text-anchor="middle" fill="#222" stroke="#222" stroke-width="0.10">0</text>
<line x1="470.15" y1="307.3" x2="470.15" y2="310.1" stroke="#3a3a3a" stroke-width="0.9"/>
<line x1="470.15" y1="157.3" x2="470.15" y2="159.3" stroke="#3a3a3a" stroke-width="0.9"/>
<line x1="480.2" y1="307.3" x2="480.2" y2="311.1" stroke="#3a3a3a" stroke-width="0.9"/>
<line x1="480.2" y1="157.3" x2="480.2" y2="160.3" stroke="#3a3a3a" stroke-width="0.9"/>
<text x="480.2" y="317.3" font-size="6.5" text-anchor="middle" fill="#222" stroke="#222" stroke-width="0.10">5</text>
<line x1="490.25" y1="307.3" x2="490.25" y2="310.1" stroke="#3a3a3a" stroke-width="0.9"/>
<line x1="490.25" y1="157.3" x2="490.25" y2="159.3" stroke="#3a3a3a" stroke-width="0.9"/>
<line x1="500.3" y1="307.3" x2="500.3" y2="311.1" stroke="#3a3a3a" stroke-width="0.9"/>
<line x1="500.3" y1="157.3" x2="500.3" y2="160.3" stroke="#3a3a3a" stroke-width="0.9"/>
<text x="500.3" y="317.3" font-size="6.5" text-anchor="middle" fill="#222" stroke="#222" stroke-width="0.10">10</text>
<line x1="510.35" y1="307.3" x2="510.35" y2="310.1" stroke="#3a3a3a" stroke-width="0.9"/>
<line x1="510.35" y1="157.3" x2="510.35" y2="159.3" stroke="#3a3a3a" stroke-width="0.9"/>
<line x1="520.4" y1="307.3" x2="520.4" y2="311.1" stroke="#3a3a3a" stroke-width="0.9"/>
<line x1="520.4" y1="157.3" x2="520.4" y2="160.3" stroke="#3a3a3a" stroke-width="0.9"/>
<text x="520.4" y="317.3" font-size="6.5" text-anchor="middle" fill="#222" stroke="#222" stroke-width="0.10">15</text>
<line x1="530.45" y1="307.3" x2="530.45" y2="310.1" stroke="#3a3a3a" stroke-width="0.9"/>
<line x1="530.45" y1="157.3" x2="530.45" y2="159.3" stroke="#3a3a3a" stroke-width="0.9"/>
<line x1="540.5" y1="307.3" x2="540.5" y2="311.1" stroke="#3a3a3a" stroke-width="0.9"/>
<line x1="540.5" y1="157.3" x2="540.5" y2="160.3" stroke="#3a3a3a" stroke-width="0.9"/>
<text x="540.5" y="317.3" font-size="6.5" text-anchor="middle" fill="#222" stroke="#222" stroke-width="0.10">20</text>
<line x1="550.55" y1="307.3" x2="550.55" y2="310.1" stroke="#3a3a3a" stroke-width="0.9"/>
<line x1="550.55" y1="157.3" x2="550.55" y2="159.3" stroke="#3a3a3a" stroke-width="0.9"/>
<line x1="560.6" y1="307.3" x2="560.6" y2="311.1" stroke="#3a3a3a" stroke-width="0.9"/>
<line x1="560.6" y1="157.3" x2="560.6" y2="160.3" stroke="#3a3a3a" stroke-width="0.9"/>
<text x="560.6" y="317.3" font-size="6.5" text-anchor="middle" fill="#222" stroke="#222" stroke-width="0.10">25</text>
<line x1="570.65" y1="307.3" x2="570.65" y2="310.1" stroke="#3a3a3a" stroke-width="0.9"/>
<line x1="570.65" y1="157.3" x2="570.65" y2="159.3" stroke="#3a3a3a" stroke-width="0.9"/>
<line x1="580.7" y1="307.3" x2="580.7" y2="311.1" stroke="#3a3a3a" stroke-width="0.9"/>
<line x1="580.7" y1="157.3" x2="580.7" y2="160.3" stroke="#3a3a3a" stroke-width="0.9"/>
<text x="580.7" y="317.3" font-size="6.5" text-anchor="middle" fill="#222" stroke="#222" stroke-width="0.10">30</text>
<line x1="590.75" y1="307.3" x2="590.75" y2="310.1" stroke="#3a3a3a" stroke-width="0.9"/>
<line x1="590.75" y1="157.3" x2="590.75" y2="159.3" stroke="#3a3a3a" stroke-width="0.9"/>
<line x1="600.8" y1="307.3" x2="600.8" y2="311.1" stroke="#3a3a3a" stroke-width="0.9"/>
<line x1="600.8" y1="157.3" x2="600.8" y2="160.3" stroke="#3a3a3a" stroke-width="0.9"/>
<text x="600.8" y="317.3" font-size="6.5" text-anchor="middle" fill="#222" stroke="#222" stroke-width="0.10">35</text>
<line x1="610.85" y1="307.3" x2="610.85" y2="310.1" stroke="#3a3a3a" stroke-width="0.9"/>
<line x1="610.85" y1="157.3" x2="610.85" y2="159.3" stroke="#3a3a3a" stroke-width="0.9"/>
<line x1="620.9" y1="307.3" x2="620.9" y2="311.1" stroke="#3a3a3a" stroke-width="0.9"/>
<line x1="620.9" y1="157.3" x2="620.9" y2="160.3" stroke="#3a3a3a" stroke-width="0.9"/>
<text x="620.9" y="317.3" font-size="6.5" text-anchor="middle" fill="#222" stroke="#222" stroke-width="0.10">40</text>
<line x1="630.95" y1="307.3" x2="630.95" y2="310.1" stroke="#3a3a3a" stroke-width="0.9"/>
<line x1="630.95" y1="157.3" x2="630.95" y2="159.3" stroke="#3a3a3a" stroke-width="0.9"/>
<line x1="641" y1="307.3" x2="641" y2="311.1" stroke="#3a3a3a" stroke-width="0.9"/>
<line x1="641" y1="157.3" x2="641" y2="160.3" stroke="#3a3a3a" stroke-width="0.9"/>
<text x="641" y="317.3" font-size="6.5" text-anchor="middle" fill="#222" stroke="#222" stroke-width="0.10">45</text>
<line x1="651.05" y1="307.3" x2="651.05" y2="310.1" stroke="#3a3a3a" stroke-width="0.9"/>
<line x1="651.05" y1="157.3" x2="651.05" y2="159.3" stroke="#3a3a3a" stroke-width="0.9"/>
<line x1="661.1" y1="307.3" x2="661.1" y2="311.1" stroke="#3a3a3a" stroke-width="0.9"/>
<line x1="661.1" y1="157.3" x2="661.1" y2="160.3" stroke="#3a3a3a" stroke-width="0.9"/>
<text x="661.1" y="317.3" font-size="6.5" text-anchor="middle" fill="#222" stroke="#222" stroke-width="0.10">50</text>
<text x="548.3" y="323.3" font-size="8" fill="#222" stroke="#222" stroke-width="0.10">Time (s)</text>
<text transform="translate(444.1,279.6) rotate(-90)" font-size="8.1" fill="#222" stroke="#222" stroke-width="0.10">Current Modulation (%)</text>
<text x="433.1" y="160.5" font-size="8.4" font-weight="bold" fill="#111" stroke="#111" stroke-width="0.00">d</text>
<rect x="561.9" y="280.2" width="94.9" height="22.3" fill="#fff" stroke="#7a7a7a" stroke-width="0.8"/>
<line x1="566.2" y1="286.8" x2="584.7" y2="286.8" stroke="#e8822a" stroke-width="1.3"/>
<line x1="566.2" y1="296.7" x2="584.7" y2="296.7" stroke="#468c3a" stroke-width="1.3"/>
<text x="586.6" y="289.4" font-size="8.1" fill="#222" stroke="#222" stroke-width="0.10">i<tspan font-size="5.4" dy="1.6">S</tspan><tspan dy="-1.6">(V</tspan><tspan font-size="5.4" dy="1.6">DS</tspan><tspan dy="-1.6"> = +100 mV)</tspan></text>
<text x="586.6" y="299.3" font-size="8.1" fill="#222" stroke="#222" stroke-width="0.10">i<tspan font-size="5.4" dy="1.6">D</tspan><tspan dy="-1.6">(V</tspan><tspan font-size="5.4" dy="1.6">DS</tspan><tspan dy="-1.6"> = -100 mV)</tspan></text>
<line x1="81.4" y1="1.3" x2="81.4" y2="134.4" stroke="#5a5a5a" stroke-width="0.75" stroke-dasharray="1.6 0.4"/>
<line x1="172.5" y1="1.3" x2="172.5" y2="134.4" stroke="#5a5a5a" stroke-width="0.75" stroke-dasharray="1.6 0.4"/>
<line x1="195.4" y1="1.3" x2="195.4" y2="134.4" stroke="#5a5a5a" stroke-width="0.75" stroke-dasharray="1.6 0.4"/>
<path d="M83,27 L102.2,40" stroke="#c4c4c4" stroke-width="2.9" stroke-linecap="round" fill="none"/>
<path d="M145,119.5 Q160,108.5 171.8,96.5" stroke="#c4c4c4" stroke-width="2.9" stroke-linecap="round" fill="none"/>
<path d="M192,72 L195.5,68" stroke="#c4c4c4" stroke-width="2.9" stroke-linecap="round" fill="none"/>
<path d="M195.8,121 L204.6,131.4" stroke="#c4c4c4" stroke-width="2.9" stroke-linecap="round" fill="none"/>
<path d="M194.8,68.3 L198.4,64.6" stroke="#dcbc2a" stroke-width="3.2" stroke-linecap="round"/>
<path d="M190.9,115.6 L195.2,119.6" stroke="#e4781e" stroke-width="3.8" stroke-linecap="round"/>
<circle cx="33.3" cy="5.1" r="1.7" fill="#4a7fd0"/>
<circle cx="63.3" cy="15.9" r="1.7" fill="#4a7fd0"/>
<circle cx="70.5" cy="19.6" r="1.7" fill="#4a7fd0"/>
<circle cx="71.9" cy="20.4" r="1.7" fill="#4a7fd0"/>
<circle cx="79.9" cy="25.1" r="1.7" fill="#4a7fd0"/>
<circle cx="81.6" cy="25.9" r="1.7" fill="#4a7fd0"/>
<circle cx="136" cy="63.5" r="1.4" fill="#fff" stroke="#f2b487" stroke-width="0.7"/>
<circle cx="143.1" cy="68.8" r="1.4" fill="#fff" stroke="#f2b487" stroke-width="0.7"/>
<circle cx="179.5" cy="103.4" r="1.5" fill="#fff" stroke="#e88a3a" stroke-width="0.8"/>
<circle cx="181.8" cy="105.7" r="1.5" fill="#fff" stroke="#e88a3a" stroke-width="0.8"/>
<path d="M183.7,107.8 L184.9,109.1" stroke="#ec8a3c" stroke-width="3.5" stroke-linecap="round"/>
<circle cx="175.2" cy="93.4" r="1.85" fill="#4caa3a"/>
<circle cx="178.4" cy="89.9" r="1.85" fill="#4caa3a"/>
<circle cx="180.7" cy="87.3" r="1.85" fill="#4caa3a"/>
<circle cx="183.8" cy="83.9" r="1.85" fill="#4caa3a"/>
<circle cx="185.3" cy="81.6" r="1.85" fill="#4caa3a"/>
<circle cx="172.3" cy="95.7" r="1.5" fill="#fff" stroke="#dcbc2a" stroke-width="0.9"/>
<rect x="24.8" y="1.3" width="181.2" height="133.1" fill="none" stroke="#3a3a3a" stroke-width="1"/>
<line x1="21.8" y1="6.6" x2="24.8" y2="6.6" stroke="#3a3a3a" stroke-width="0.9"/>
<line x1="203.5" y1="6.6" x2="206.0" y2="6.6" stroke="#3a3a3a" stroke-width="0.9"/>
<text transform="translate(21.2,9) scale(0.82,1)" font-size="6.8" text-anchor="end" fill="#333" stroke="#333" stroke-width="0.10">-8</text>
<line x1="22.6" y1="17.7" x2="24.8" y2="17.7" stroke="#3a3a3a" stroke-width="0.9"/>
<line x1="203.5" y1="17.7" x2="206.0" y2="17.7" stroke="#3a3a3a" stroke-width="0.9"/>
<line x1="21.8" y1="28.8" x2="24.8" y2="28.8" stroke="#3a3a3a" stroke-width="0.9"/>
<line x1="203.5" y1="28.8" x2="206.0" y2="28.8" stroke="#3a3a3a" stroke-width="0.9"/>
<text transform="translate(21.2,31.2) scale(0.82,1)" font-size="6.8" text-anchor="end" fill="#333" stroke="#333" stroke-width="0.10">-6</text>
<line x1="22.6" y1="39.9" x2="24.8" y2="39.9" stroke="#3a3a3a" stroke-width="0.9"/>
<line x1="203.5" y1="39.9" x2="206.0" y2="39.9" stroke="#3a3a3a" stroke-width="0.9"/>
<line x1="21.8" y1="51" x2="24.8" y2="51" stroke="#3a3a3a" stroke-width="0.9"/>
<line x1="203.5" y1="51" x2="206.0" y2="51" stroke="#3a3a3a" stroke-width="0.9"/>
<text transform="translate(21.2,53.4) scale(0.82,1)" font-size="6.8" text-anchor="end" fill="#333" stroke="#333" stroke-width="0.10">-4</text>
<line x1="22.6" y1="62.1" x2="24.8" y2="62.1" stroke="#3a3a3a" stroke-width="0.9"/>
<line x1="203.5" y1="62.1" x2="206.0" y2="62.1" stroke="#3a3a3a" stroke-width="0.9"/>
<line x1="21.8" y1="73.2" x2="24.8" y2="73.2" stroke="#3a3a3a" stroke-width="0.9"/>
<line x1="203.5" y1="73.2" x2="206.0" y2="73.2" stroke="#3a3a3a" stroke-width="0.9"/>
<text transform="translate(21.2,75.6) scale(0.82,1)" font-size="6.8" text-anchor="end" fill="#333" stroke="#333" stroke-width="0.10">-2</text>
<line x1="22.6" y1="84.3" x2="24.8" y2="84.3" stroke="#3a3a3a" stroke-width="0.9"/>
<line x1="203.5" y1="84.3" x2="206.0" y2="84.3" stroke="#3a3a3a" stroke-width="0.9"/>
<line x1="21.8" y1="95.4" x2="24.8" y2="95.4" stroke="#3a3a3a" stroke-width="0.9"/>
<line x1="203.5" y1="95.4" x2="206.0" y2="95.4" stroke="#3a3a3a" stroke-width="0.9"/>
<text transform="translate(21.2,97.8) scale(0.82,1)" font-size="6.8" text-anchor="end" fill="#333" stroke="#333" stroke-width="0.10">0</text>
<line x1="22.6" y1="106.5" x2="24.8" y2="106.5" stroke="#3a3a3a" stroke-width="0.9"/>
<line x1="203.5" y1="106.5" x2="206.0" y2="106.5" stroke="#3a3a3a" stroke-width="0.9"/>
<line x1="21.8" y1="117.6" x2="24.8" y2="117.6" stroke="#3a3a3a" stroke-width="0.9"/>
<line x1="203.5" y1="117.6" x2="206.0" y2="117.6" stroke="#3a3a3a" stroke-width="0.9"/>
<text transform="translate(21.2,120) scale(0.82,1)" font-size="6.8" text-anchor="end" fill="#333" stroke="#333" stroke-width="0.10">2</text>
<line x1="22.6" y1="128.7" x2="24.8" y2="128.7" stroke="#3a3a3a" stroke-width="0.9"/>
<line x1="203.5" y1="128.7" x2="206.0" y2="128.7" stroke="#3a3a3a" stroke-width="0.9"/>
<line x1="35.7" y1="134.4" x2="35.7" y2="136.70000000000002" stroke="#3a3a3a" stroke-width="0.9"/>
<line x1="35.7" y1="1.3" x2="35.7" y2="3.5999999999999996" stroke="#3a3a3a" stroke-width="0.9"/>
<text transform="translate(35.7,142.9) scale(0.82,1)" font-size="6.8" text-anchor="middle" fill="#333" stroke="#333" stroke-width="0.10">-2.2</text>
<line x1="47.1" y1="134.4" x2="47.1" y2="136.70000000000002" stroke="#3a3a3a" stroke-width="0.9"/>
<line x1="47.1" y1="1.3" x2="47.1" y2="3.5999999999999996" stroke="#3a3a3a" stroke-width="0.9"/>
<line x1="58.5" y1="134.4" x2="58.5" y2="136.70000000000002" stroke="#3a3a3a" stroke-width="0.9"/>
<line x1="58.5" y1="1.3" x2="58.5" y2="3.5999999999999996" stroke="#3a3a3a" stroke-width="0.9"/>
<text transform="translate(58.5,142.9) scale(0.82,1)" font-size="6.8" text-anchor="middle" fill="#333" stroke="#333" stroke-width="0.10">-2.0</text>
<line x1="69.9" y1="134.4" x2="69.9" y2="136.70000000000002" stroke="#3a3a3a" stroke-width="0.9"/>
<line x1="69.9" y1="1.3" x2="69.9" y2="3.5999999999999996" stroke="#3a3a3a" stroke-width="0.9"/>
<line x1="81.3" y1="134.4" x2="81.3" y2="136.70000000000002" stroke="#3a3a3a" stroke-width="0.9"/>
<line x1="81.3" y1="1.3" x2="81.3" y2="3.5999999999999996" stroke="#3a3a3a" stroke-width="0.9"/>
<text transform="translate(81.3,142.9) scale(0.82,1)" font-size="6.8" text-anchor="middle" fill="#333" stroke="#333" stroke-width="0.10">-1.8</text>
<line x1="92.7" y1="134.4" x2="92.7" y2="136.70000000000002" stroke="#3a3a3a" stroke-width="0.9"/>
<line x1="92.7" y1="1.3" x2="92.7" y2="3.5999999999999996" stroke="#3a3a3a" stroke-width="0.9"/>
<line x1="104.1" y1="134.4" x2="104.1" y2="136.70000000000002" stroke="#3a3a3a" stroke-width="0.9"/>
<line x1="104.1" y1="1.3" x2="104.1" y2="3.5999999999999996" stroke="#3a3a3a" stroke-width="0.9"/>
<text transform="translate(104.1,142.9) scale(0.82,1)" font-size="6.8" text-anchor="middle" fill="#333" stroke="#333" stroke-width="0.10">-1.6</text>
<line x1="115.5" y1="134.4" x2="115.5" y2="136.70000000000002" stroke="#3a3a3a" stroke-width="0.9"/>
<line x1="115.5" y1="1.3" x2="115.5" y2="3.5999999999999996" stroke="#3a3a3a" stroke-width="0.9"/>
<line x1="126.9" y1="134.4" x2="126.9" y2="136.70000000000002" stroke="#3a3a3a" stroke-width="0.9"/>
<line x1="126.9" y1="1.3" x2="126.9" y2="3.5999999999999996" stroke="#3a3a3a" stroke-width="0.9"/>
<text transform="translate(126.9,142.9) scale(0.82,1)" font-size="6.8" text-anchor="middle" fill="#333" stroke="#333" stroke-width="0.10">-1.4</text>
<line x1="138.3" y1="134.4" x2="138.3" y2="136.70000000000002" stroke="#3a3a3a" stroke-width="0.9"/>
<line x1="138.3" y1="1.3" x2="138.3" y2="3.5999999999999996" stroke="#3a3a3a" stroke-width="0.9"/>
<line x1="149.7" y1="134.4" x2="149.7" y2="136.70000000000002" stroke="#3a3a3a" stroke-width="0.9"/>
<line x1="149.7" y1="1.3" x2="149.7" y2="3.5999999999999996" stroke="#3a3a3a" stroke-width="0.9"/>
<text transform="translate(149.7,142.9) scale(0.82,1)" font-size="6.8" text-anchor="middle" fill="#333" stroke="#333" stroke-width="0.10">-1.2</text>
<line x1="161.1" y1="134.4" x2="161.1" y2="136.70000000000002" stroke="#3a3a3a" stroke-width="0.9"/>
<line x1="161.1" y1="1.3" x2="161.1" y2="3.5999999999999996" stroke="#3a3a3a" stroke-width="0.9"/>
<line x1="172.5" y1="134.4" x2="172.5" y2="136.70000000000002" stroke="#3a3a3a" stroke-width="0.9"/>
<line x1="172.5" y1="1.3" x2="172.5" y2="3.5999999999999996" stroke="#3a3a3a" stroke-width="0.9"/>
<text transform="translate(172.5,142.9) scale(0.82,1)" font-size="6.8" text-anchor="middle" fill="#333" stroke="#333" stroke-width="0.10">-1.0</text>
<line x1="183.9" y1="134.4" x2="183.9" y2="136.70000000000002" stroke="#3a3a3a" stroke-width="0.9"/>
<line x1="183.9" y1="1.3" x2="183.9" y2="3.5999999999999996" stroke="#3a3a3a" stroke-width="0.9"/>
<line x1="195.3" y1="134.4" x2="195.3" y2="136.70000000000002" stroke="#3a3a3a" stroke-width="0.9"/>
<line x1="195.3" y1="1.3" x2="195.3" y2="3.5999999999999996" stroke="#3a3a3a" stroke-width="0.9"/>
<text transform="translate(195.3,142.9) scale(0.82,1)" font-size="6.8" text-anchor="middle" fill="#333" stroke="#333" stroke-width="0.10">-0.8</text>
<text transform="translate(24.9,142.9) scale(0.82,1)" font-size="6.8" text-anchor="middle" fill="#333" stroke="#333" stroke-width="0.10">25</text>
<text x="110.4" y="149.3" font-size="7.2" fill="#333" stroke="#333" stroke-width="0.10">I<tspan font-size="5.2" dy="2.6">G</tspan><tspan dy="-2.6">/I</tspan><tspan font-size="5.2" dy="2.6">D</tspan></text>
<text transform="translate(11.4,86.8) rotate(-90)" font-size="7" fill="#333" stroke="#333" stroke-width="0.10">I<tspan font-size="4.8" dy="1.6">S</tspan><tspan dy="-1.6">+I</tspan><tspan font-size="4.8" dy="1.6">D</tspan><tspan dy="-1.6"> (µA)</tspan></text>
<text x="4.6" y="9.3" font-size="9.5" font-weight="bold" fill="#111" stroke="#111" stroke-width="0.00">a</text>
<text transform="translate(43,31.4) scale(0.92,1)" font-size="6.6" fill="#6a96d8" font-weight="bold" stroke="#6a96d8" stroke-width="0.00">|I<tspan font-size="4.5" dy="1.4">G</tspan><tspan dy="-1.4">|</tspan> &gt; 1.8 |I<tspan font-size="4.5" dy="1.4">D</tspan><tspan dy="-1.4">|</tspan></text>
<text transform="translate(177.9,54.4) scale(0.92,1)" font-size="6.6" fill="#d4be34" font-weight="bold" stroke="#d4be34" stroke-width="0.00">|I<tspan font-size="4.5" dy="1.4">G</tspan><tspan dy="-1.4">|</tspan> &lt;</text>
<text transform="translate(175.9,62.3) scale(0.92,1)" font-size="6.6" fill="#d4be34" font-weight="bold" stroke="#d4be34" stroke-width="0.00">0.8 |I<tspan font-size="4.5" dy="1.4">D</tspan><tspan dy="-1.4">|</tspan></text>
<text transform="translate(149,90.3) scale(0.92,1)" font-size="6.6" fill="#7cc05c" font-weight="bold" stroke="#7cc05c" stroke-width="0.00">|I<tspan font-size="4.5" dy="1.4">G</tspan><tspan dy="-1.4">|</tspan> &lt; |I<tspan font-size="4.5" dy="1.4">D</tspan><tspan dy="-1.4">|</tspan></text>
<text transform="translate(178.3,123.2) scale(0.92,1)" font-size="6.6" fill="#e8883a" font-weight="bold" stroke="#e8883a" stroke-width="0.00">|I<tspan font-size="4.5" dy="1.4">G</tspan><tspan dy="-1.4">|</tspan> &gt;</text>
<text transform="translate(176.2,131.2) scale(0.92,1)" font-size="6.6" fill="#e8883a" font-weight="bold" stroke="#e8883a" stroke-width="0.00">0.8 |I<tspan font-size="4.5" dy="1.4">D</tspan><tspan dy="-1.4">|</tspan></text>
<rect x="40.8" y="75.6" width="87.8" height="36.6" fill="#fff" stroke="#3a3a3a" stroke-width="1"/>
<text x="44.6" y="83.8" font-size="6.5" fill="#5a88d4" stroke="#5a88d4" stroke-width="0.10">V<tspan font-size="4.4" dy="1.3">DS</tspan><tspan dy="-1.3"> = +0.1 V; V</tspan><tspan font-size="4.4" dy="1.3">pulse</tspan><tspan dy="-1.3"> = +0.1 V</tspan></text>
<text x="44.6" y="92.1" font-size="6.5" fill="#4caa3a" stroke="#4caa3a" stroke-width="0.10">V<tspan font-size="4.4" dy="1.3">DS</tspan><tspan dy="-1.3"> = -0.1 V; V</tspan><tspan font-size="4.4" dy="1.3">pulse</tspan><tspan dy="-1.3"> = -0.1 V</tspan></text>
<text x="44.6" y="100.4" font-size="6.5" fill="#d8bc30" stroke="#d8bc30" stroke-width="0.10">V<tspan font-size="4.4" dy="1.3">DS</tspan><tspan dy="-1.3"> = -0.1 V; V</tspan><tspan font-size="4.4" dy="1.3">pulse</tspan><tspan dy="-1.3"> = +0.1 V</tspan></text>
<text x="44.6" y="108.7" font-size="6.5" fill="#e4782a" stroke="#e4782a" stroke-width="0.10">V<tspan font-size="4.4" dy="1.3">DS</tspan><tspan dy="-1.3"> = +0.1 V; V</tspan><tspan font-size="4.4" dy="1.3">pulse</tspan><tspan dy="-1.3"> = -0.1 V</tspan></text>
<line x1="213.5" y1="9" x2="213.5" y2="55.5" stroke="#777" stroke-width="0.9"/>
<line x1="442.5" y1="7.7" x2="442.5" y2="57.5" stroke="#777" stroke-width="0.9"/>
<line x1="213.5" y1="72.3" x2="213.5" y2="119" stroke="#777" stroke-width="0.9"/>
<line x1="442.5" y1="72.7" x2="442.5" y2="119.4" stroke="#777" stroke-width="0.9"/>
<text x="216.6" y="9.4" font-size="9.5" font-weight="bold" fill="#111" stroke="#111" stroke-width="0.00">b</text>
<path d="M213.6,31.1 Q224,32.3 232.6,32.2 M213.6,33.9 Q224,32.7 232.6,32.8" fill="none" stroke="#9a9a9a" stroke-width="0.7"/>
<line x1="233.5" y1="26.2" x2="233.5" y2="36" stroke="#8c8c8c" stroke-width="0.8"/>
<path d="M233.5,28.8 Q237.62,32 250,32 M233.5,35 Q237.62,33 250,33" fill="none" stroke="#8c8c8c" stroke-width="0.8"/>
<path d="M249.8,32 L252.6,32 M249.8,33 L252.6,33" fill="none" stroke="#9a9a9a" stroke-width="0.7"/>
<path d="M252.5,32 Q254.2,31.5 254.8,26.8 L263.4,26.2 M252.5,33 Q254.2,33.5 254.8,36.2 L263.4,36.6" fill="none" stroke="#8c8c8c" stroke-width="0.9"/>
<line x1="255.5" y1="25.2" x2="255.5" y2="28" stroke="#888" stroke-width="0.9"/>
<line x1="255.5" y1="35.2" x2="255.5" y2="38" stroke="#888" stroke-width="0.9"/>
<line x1="257.5" y1="25.2" x2="257.5" y2="28" stroke="#888" stroke-width="0.9"/>
<line x1="257.5" y1="35.2" x2="257.5" y2="38" stroke="#888" stroke-width="0.9"/>
<line x1="259.5" y1="25.2" x2="259.5" y2="28" stroke="#888" stroke-width="0.9"/>
<line x1="259.5" y1="35.2" x2="259.5" y2="38" stroke="#888" stroke-width="0.9"/>
<line x1="261.5" y1="25.2" x2="261.5" y2="28" stroke="#888" stroke-width="0.9"/>
<line x1="261.5" y1="35.2" x2="261.5" y2="38" stroke="#888" stroke-width="0.9"/>
<line x1="263.5" y1="25.2" x2="263.5" y2="28" stroke="#888" stroke-width="0.9"/>
<line x1="263.5" y1="35.2" x2="263.5" y2="38" stroke="#888" stroke-width="0.9"/>
<path d="M255,26.2 L255.8,24.2 Q259,22.3 263.2,22.2 L263.4,25.4 L255,26.5Z" fill="#c0161e"/>
<rect x="256" y="32.3" width="7.2" height="1.7" fill="#2e3ea2"/>
<path d="M263.4,26.4 Q268.55,32 284,32 M263.4,37 Q268.55,33 284,33" fill="none" stroke="#8c8c8c" stroke-width="0.8"/>
<path d="M284,31.75 L285.4,31.75 M284,33.25 L285.4,33.25" fill="none" stroke="#9a9a9a" stroke-width="0.7"/>
<path d="M284,32.2 Q285.2,31.5 285.6,27 M284,32.8 Q285.2,33.5 285.6,37" fill="none" stroke="#8c8c8c" stroke-width="0.8"/>
<line x1="285.5" y1="27" x2="285.5" y2="37.5" stroke="#8a8a8a" stroke-width="0.9"/>
<path d="M286.1,26.5 Q286.8,29.6 289.6,29.8 M286.1,37.2 Q286.8,35.2 289.6,35" fill="none" stroke="#8c8c8c" stroke-width="0.8"/>
<line x1="289.5" y1="25.5" x2="289.5" y2="37.5" stroke="#8a8a8a" stroke-width="0.9"/>
<path d="M290.1,26.5 Q290.8,29.6 293.7,29.8 M290.1,37.2 Q290.8,35.2 293.7,35" fill="none" stroke="#8c8c8c" stroke-width="0.8"/>
<rect x="289" y="23.6" width="1.6" height="2.6" rx="0.5" fill="#c0161e"/>
<rect x="289" y="32.6" width="1.6" height="1.6" fill="#2e3ea2"/>
<line x1="293.5" y1="25.5" x2="293.5" y2="37.5" stroke="#8a8a8a" stroke-width="0.9"/>
<path d="M294.2,26.5 Q294.9,29.6 297.7,29.8 M294.2,37.2 Q294.9,35.2 297.7,35" fill="none" stroke="#8c8c8c" stroke-width="0.8"/>
<line x1="297.5" y1="25.5" x2="297.5" y2="37.5" stroke="#8a8a8a" stroke-width="0.9"/>
<path d="M298.2,26.5 Q298.9,29.6 302,29.8 M298.2,37.2 Q298.9,35.2 302,35" fill="none" stroke="#8c8c8c" stroke-width="0.8"/>
<rect x="297.1" y="23.6" width="1.6" height="2.6" rx="0.5" fill="#c0161e"/>
<rect x="297.1" y="32.6" width="1.6" height="1.6" fill="#2e3ea2"/>
<line x1="302.5" y1="25.5" x2="302.5" y2="37.5" stroke="#8a8a8a" stroke-width="0.9"/>
<rect x="301.4" y="23.6" width="1.6" height="2.6" rx="0.5" fill="#c0161e"/>
<rect x="301.4" y="32.6" width="1.6" height="1.6" fill="#2e3ea2"/>
<path d="M302.5,26.5 Q309.02,32 328.6,32 M302.5,37.2 Q309.02,33 328.6,33" fill="none" stroke="#8c8c8c" stroke-width="0.8"/>
<line x1="328.5" y1="26.5" x2="328.5" y2="32.8" stroke="#999" stroke-width="0.9"/>
<path d="M328.9,27.2 C329.6,23 332,20.3 338,19.3 C345,18.2 360,17.8 438.6,17.2" fill="none" stroke="#c0161e" stroke-width="1.9"/>
<path d="M328.6,32.8 C332,33.4 360,33.8 438.6,34.6" fill="none" stroke="#2e3ea2" stroke-width="1.9"/>
<line x1="350.5" y1="17.86" x2="350.5" y2="25.2" stroke="#8a8a8a" stroke-width="0.9"/>
<line x1="350.5" y1="33.79" x2="350.5" y2="39" stroke="#8a8a8a" stroke-width="0.9"/>
<path d="M348.5,17.86 Q350.1,17.86 350.5,21.06" fill="none" stroke="#c0161e" stroke-width="1.2"/>
<line x1="373.5" y1="17.72" x2="373.5" y2="25.2" stroke="#8a8a8a" stroke-width="0.9"/>
<line x1="373.5" y1="34" x2="373.5" y2="39" stroke="#8a8a8a" stroke-width="0.9"/>
<path d="M371.5,17.72 Q373.1,17.72 373.5,20.92" fill="none" stroke="#c0161e" stroke-width="1.2"/>
<line x1="375.5" y1="17.7" x2="375.5" y2="25.2" stroke="#8a8a8a" stroke-width="0.9"/>
<line x1="375.5" y1="34.02" x2="375.5" y2="39" stroke="#8a8a8a" stroke-width="0.9"/>
<path d="M373.5,17.7 Q375.1,17.7 375.5,20.9" fill="none" stroke="#c0161e" stroke-width="1.2"/>
<line x1="377.5" y1="17.69" x2="377.5" y2="25.2" stroke="#8a8a8a" stroke-width="0.9"/>
<line x1="377.5" y1="34.04" x2="377.5" y2="39" stroke="#8a8a8a" stroke-width="0.9"/>
<path d="M375.5,17.69 Q377.1,17.69 377.5,20.89" fill="none" stroke="#c0161e" stroke-width="1.2"/>
<line x1="379.5" y1="17.68" x2="379.5" y2="25.2" stroke="#8a8a8a" stroke-width="0.9"/>
<line x1="379.5" y1="34.06" x2="379.5" y2="39" stroke="#8a8a8a" stroke-width="0.9"/>
<path d="M377.5,17.68 Q379.1,17.68 379.5,20.88" fill="none" stroke="#c0161e" stroke-width="1.2"/>
<line x1="381.5" y1="17.67" x2="381.5" y2="25.2" stroke="#8a8a8a" stroke-width="0.9"/>
<line x1="381.5" y1="34.07" x2="381.5" y2="39" stroke="#8a8a8a" stroke-width="0.9"/>
<path d="M379.5,17.67 Q381.1,17.67 381.5,20.87" fill="none" stroke="#c0161e" stroke-width="1.2"/>
<line x1="383.5" y1="17.66" x2="383.5" y2="25.2" stroke="#8a8a8a" stroke-width="0.9"/>
<line x1="383.5" y1="34.09" x2="383.5" y2="39" stroke="#8a8a8a" stroke-width="0.9"/>
<path d="M381.5,17.66 Q383.1,17.66 383.5,20.86" fill="none" stroke="#c0161e" stroke-width="1.2"/>
<line x1="404.5" y1="17.52" x2="404.5" y2="25.2" stroke="#8a8a8a" stroke-width="0.9"/>
<line x1="404.5" y1="34.29" x2="404.5" y2="39" stroke="#8a8a8a" stroke-width="0.9"/>
<path d="M402.5,17.52 Q404.1,17.52 404.5,20.72" fill="none" stroke="#c0161e" stroke-width="1.2"/>
<line x1="408.5" y1="17.49" x2="408.5" y2="25.2" stroke="#8a8a8a" stroke-width="0.9"/>
<line x1="408.5" y1="34.32" x2="408.5" y2="39" stroke="#8a8a8a" stroke-width="0.9"/>
<path d="M406.5,17.49 Q408.1,17.49 408.5,20.69" fill="none" stroke="#c0161e" stroke-width="1.2"/>
<line x1="412.5" y1="17.47" x2="412.5" y2="25.2" stroke="#8a8a8a" stroke-width="0.9"/>
<line x1="412.5" y1="34.36" x2="412.5" y2="39" stroke="#8a8a8a" stroke-width="0.9"/>
<path d="M410.5,17.47 Q412.1,17.47 412.5,20.67" fill="none" stroke="#c0161e" stroke-width="1.2"/>
<line x1="416.5" y1="17.44" x2="416.5" y2="25.2" stroke="#8a8a8a" stroke-width="0.9"/>
<line x1="416.5" y1="34.4" x2="416.5" y2="39" stroke="#8a8a8a" stroke-width="0.9"/>
<path d="M414.5,17.44 Q416.1,17.44 416.5,20.64" fill="none" stroke="#c0161e" stroke-width="1.2"/>
<line x1="420.5" y1="17.42" x2="420.5" y2="25.2" stroke="#8a8a8a" stroke-width="0.9"/>
<line x1="420.5" y1="34.43" x2="420.5" y2="39" stroke="#8a8a8a" stroke-width="0.9"/>
<path d="M418.5,17.42 Q420.1,17.42 420.5,20.62" fill="none" stroke="#c0161e" stroke-width="1.2"/>
<line x1="424.5" y1="17.39" x2="424.5" y2="25.2" stroke="#8a8a8a" stroke-width="0.9"/>
<line x1="424.5" y1="34.47" x2="424.5" y2="39" stroke="#8a8a8a" stroke-width="0.9"/>
<path d="M422.5,17.39 Q424.1,17.39 424.5,20.59" fill="none" stroke="#c0161e" stroke-width="1.2"/>
<path d="M442.5,31.55 L447,31.55 M442.5,33.05 L447,33.05" fill="none" stroke="#9a9a9a" stroke-width="0.7"/>
<path d="M447,31.8 Q457.5,31.8 461,30.2 M447,32.8 Q457.5,32.8 461,34.6" fill="none" stroke="#8c8c8c" stroke-width="0.8"/>
<line x1="461.5" y1="19.4" x2="461.5" y2="41" stroke="#888" stroke-width="0.9"/>
<rect x="460.2" y="19.2" width="1.7" height="2.6" rx="0.5" fill="#c0161e"/>
<rect x="460.2" y="28.2" width="1.7" height="1.6" fill="#2e3ea2"/>
<path d="M461.5,29.5 Q464.12,31.8 472,31.8 M461.5,35.5 Q464.12,32.8 472,32.8" fill="none" stroke="#8c8c8c" stroke-width="0.8"/>
<path d="M472,31.8 Q479.5,31.8 482,29.5 M472,32.8 Q479.5,32.8 482,35.5" fill="none" stroke="#8c8c8c" stroke-width="0.8"/>
<line x1="482.5" y1="19.2" x2="482.5" y2="37.9" stroke="#888" stroke-width="0.9"/>
<rect x="481.8" y="18.4" width="1.5" height="2.6" rx="0.5" fill="#c0161e"/>
<line x1="484.5" y1="19.2" x2="484.5" y2="37.9" stroke="#888" stroke-width="0.9"/>
<rect x="483.8" y="18.4" width="1.5" height="2.6" rx="0.5" fill="#c0161e"/>
<line x1="486.5" y1="19.2" x2="486.5" y2="37.9" stroke="#888" stroke-width="0.9"/>
<rect x="485.8" y="18.4" width="1.5" height="2.6" rx="0.5" fill="#c0161e"/>
<line x1="488.5" y1="19.2" x2="488.5" y2="37.9" stroke="#888" stroke-width="0.9"/>
<rect x="487.8" y="18.4" width="1.5" height="2.6" rx="0.5" fill="#c0161e"/>
<line x1="490.5" y1="19.2" x2="490.5" y2="37.9" stroke="#888" stroke-width="0.9"/>
<rect x="489.8" y="18.4" width="1.5" height="2.6" rx="0.5" fill="#c0161e"/>
<line x1="491.5" y1="19.2" x2="491.5" y2="37.9" stroke="#888" stroke-width="0.9"/>
<rect x="490.8" y="18.4" width="1.5" height="2.6" rx="0.5" fill="#c0161e"/>
<path d="M481.5,29.6 L482.8,28.4 L484,29.8 L485.2,28.4 L486.4,29.8 L487.6,28.4 L488.8,29.8 L490,28.4 L491.2,29.8 L492.4,28.6" fill="none" stroke="#2e3ea2" stroke-width="1.2"/>
<path d="M482,37.4 L483,38.4 L484,37.4 L485,38.4 L486,37.4 L487,38.4 L488,37.4 L489,38.4 L490,37.4 L491,38.4 L492,37.4" fill="none" stroke="#999" stroke-width="0.7"/>
<path d="M492.5,28.5 Q495.12,31.8 503,31.8 M492.5,37 Q495.12,32.8 503,32.8" fill="none" stroke="#8c8c8c" stroke-width="0.8"/>
<path d="M503,31.8 Q511.03,31.8 513.7,29.5 M503,32.8 Q511.03,32.8 513.7,35.5" fill="none" stroke="#8c8c8c" stroke-width="0.8"/>
<line x1="513.5" y1="21" x2="513.5" y2="41" stroke="#8a8a8a" stroke-width="0.9"/>
<path d="M513.7,28 Q514.75,31.8 517.9,31.8 M513.7,36 Q514.75,32.8 517.9,32.8" fill="none" stroke="#8c8c8c" stroke-width="0.8"/>
<line x1="518.5" y1="20.3" x2="518.5" y2="37" stroke="#8a8a8a" stroke-width="0.9"/>
<path d="M518,28 Q519.05,31.8 522.2,31.8 M518,36 Q519.05,32.8 522.2,32.8" fill="none" stroke="#8c8c8c" stroke-width="0.8"/>
<rect x="517.2" y="20" width="1.7" height="2.5" fill="#c0161e"/>
<rect x="517.2" y="29.2" width="1.7" height="1.6" fill="#2e3ea2"/>
<line x1="522.5" y1="20.3" x2="522.5" y2="37" stroke="#8a8a8a" stroke-width="0.9"/>
<path d="M522,28 Q523.05,31.8 526.2,31.8 M522,36 Q523.05,32.8 526.2,32.8" fill="none" stroke="#8c8c8c" stroke-width="0.8"/>
<line x1="527.5" y1="20.3" x2="527.5" y2="37" stroke="#8a8a8a" stroke-width="0.9"/>
<path d="M527,28 Q528.05,31.8 531.2,31.8 M527,36 Q528.05,32.8 531.2,32.8" fill="none" stroke="#8c8c8c" stroke-width="0.8"/>
<rect x="526.2" y="20" width="1.7" height="2.5" fill="#c0161e"/>
<rect x="526.2" y="29.2" width="1.7" height="1.6" fill="#2e3ea2"/>
<line x1="531.5" y1="20.3" x2="531.5" y2="37" stroke="#8a8a8a" stroke-width="0.9"/>
<rect x="530.2" y="20" width="1.7" height="2.5" fill="#c0161e"/>
<rect x="530.2" y="29.2" width="1.7" height="1.6" fill="#2e3ea2"/>
<path d="M531.5,28.5 Q534.12,31.8 542,31.8 M531.5,36.5 Q534.12,32.8 542,32.8" fill="none" stroke="#8c8c8c" stroke-width="0.8"/>
<path d="M542,31.8 Q552.95,31.8 556.6,30.8 M542,32.8 Q552.95,32.8 556.6,33.8" fill="none" stroke="#8c8c8c" stroke-width="0.8"/>
<line x1="556.5" y1="23.5" x2="556.5" y2="32.3" stroke="#999" stroke-width="0.9"/>
<path d="M557,23.8 C557.6,20.5 560,18.2 566,17.6 C590,17 620,16.4 668,15.8" fill="none" stroke="#c0161e" stroke-width="1.9"/>
<path d="M556.6,31.6 C557.5,30 559,29.3 565,29.4 C600,30 630,30.6 668,31" fill="none" stroke="#2e3ea2" stroke-width="1.9"/>
<line x1="579.5" y1="17.19" x2="579.5" y2="25.7" stroke="#8a8a8a" stroke-width="0.9"/>
<line x1="579.5" y1="29.78" x2="579.5" y2="38.2" stroke="#8a8a8a" stroke-width="0.9"/>
<path d="M577.5,17.19 Q579.1,17.19 579.5,20.39" fill="none" stroke="#c0161e" stroke-width="1.2"/>
<line x1="601.5" y1="16.84" x2="601.5" y2="25.7" stroke="#8a8a8a" stroke-width="0.9"/>
<line x1="601.5" y1="30.09" x2="601.5" y2="38.2" stroke="#8a8a8a" stroke-width="0.9"/>
<path d="M599.5,16.84 Q601.1,16.84 601.5,20.04" fill="none" stroke="#c0161e" stroke-width="1.2"/>
<line x1="603.5" y1="16.81" x2="603.5" y2="25.7" stroke="#8a8a8a" stroke-width="0.9"/>
<line x1="603.5" y1="30.12" x2="603.5" y2="38.2" stroke="#8a8a8a" stroke-width="0.9"/>
<path d="M601.5,16.81 Q603.1,16.81 603.5,20.01" fill="none" stroke="#c0161e" stroke-width="1.2"/>
<line x1="605.5" y1="16.78" x2="605.5" y2="25.7" stroke="#8a8a8a" stroke-width="0.9"/>
<line x1="605.5" y1="30.14" x2="605.5" y2="38.2" stroke="#8a8a8a" stroke-width="0.9"/>
<path d="M603.5,16.78 Q605.1,16.78 605.5,19.98" fill="none" stroke="#c0161e" stroke-width="1.2"/>
<line x1="607.5" y1="16.75" x2="607.5" y2="25.7" stroke="#8a8a8a" stroke-width="0.9"/>
<line x1="607.5" y1="30.17" x2="607.5" y2="38.2" stroke="#8a8a8a" stroke-width="0.9"/>
<path d="M605.5,16.75 Q607.1,16.75 607.5,19.95" fill="none" stroke="#c0161e" stroke-width="1.2"/>
<line x1="609.5" y1="16.72" x2="609.5" y2="25.7" stroke="#8a8a8a" stroke-width="0.9"/>
<line x1="609.5" y1="30.19" x2="609.5" y2="38.2" stroke="#8a8a8a" stroke-width="0.9"/>
<path d="M607.5,16.72 Q609.1,16.72 609.5,19.92" fill="none" stroke="#c0161e" stroke-width="1.2"/>
<line x1="610.5" y1="16.7" x2="610.5" y2="25.7" stroke="#8a8a8a" stroke-width="0.9"/>
<line x1="610.5" y1="30.22" x2="610.5" y2="38.2" stroke="#8a8a8a" stroke-width="0.9"/>
<path d="M608.5,16.7 Q610.1,16.7 610.5,19.9" fill="none" stroke="#c0161e" stroke-width="1.2"/>
<line x1="634.5" y1="16.33" x2="634.5" y2="25.7" stroke="#8a8a8a" stroke-width="0.9"/>
<line x1="634.5" y1="30.54" x2="634.5" y2="38.2" stroke="#8a8a8a" stroke-width="0.9"/>
<path d="M632.5,16.33 Q634.1,16.33 634.5,19.53" fill="none" stroke="#c0161e" stroke-width="1.2"/>
<line x1="638.5" y1="16.27" x2="638.5" y2="25.7" stroke="#8a8a8a" stroke-width="0.9"/>
<line x1="638.5" y1="30.59" x2="638.5" y2="38.2" stroke="#8a8a8a" stroke-width="0.9"/>
<path d="M636.5,16.27 Q638.1,16.27 638.5,19.47" fill="none" stroke="#c0161e" stroke-width="1.2"/>
<line x1="642.5" y1="16.2" x2="642.5" y2="25.7" stroke="#8a8a8a" stroke-width="0.9"/>
<line x1="642.5" y1="30.65" x2="642.5" y2="38.2" stroke="#8a8a8a" stroke-width="0.9"/>
<path d="M640.5,16.2 Q642.1,16.2 642.5,19.4" fill="none" stroke="#c0161e" stroke-width="1.2"/>
<line x1="646.5" y1="16.14" x2="646.5" y2="25.7" stroke="#8a8a8a" stroke-width="0.9"/>
<line x1="646.5" y1="30.71" x2="646.5" y2="38.2" stroke="#8a8a8a" stroke-width="0.9"/>
<path d="M644.5,16.14 Q646.1,16.14 646.5,19.34" fill="none" stroke="#c0161e" stroke-width="1.2"/>
<line x1="650.5" y1="16.07" x2="650.5" y2="25.7" stroke="#8a8a8a" stroke-width="0.9"/>
<line x1="650.5" y1="30.76" x2="650.5" y2="38.2" stroke="#8a8a8a" stroke-width="0.9"/>
<path d="M648.5,16.07 Q650.1,16.07 650.5,19.27" fill="none" stroke="#c0161e" stroke-width="1.2"/>
<line x1="654.5" y1="16.01" x2="654.5" y2="25.7" stroke="#8a8a8a" stroke-width="0.9"/>
<line x1="654.5" y1="30.82" x2="654.5" y2="38.2" stroke="#8a8a8a" stroke-width="0.9"/>
<path d="M652.5,16.01 Q654.1,16.01 654.5,19.21" fill="none" stroke="#c0161e" stroke-width="1.2"/>
<path d="M213.5,93.45 L253,93.45 M213.5,94.95 L253,94.95" fill="none" stroke="#9a9a9a" stroke-width="0.7"/>
<line x1="232.5" y1="94.2" x2="232.5" y2="103.2" stroke="#888" stroke-width="0.9"/>
<line x1="253.5" y1="94.2" x2="253.5" y2="103.2" stroke="#8c8c8c" stroke-width="0.8"/>
<rect x="253.6" y="95" width="9.8" height="8.2" fill="#c4c4c4"/>
<line x1="254.5" y1="95" x2="254.5" y2="103.2" stroke="#8a8a8a" stroke-width="0.8"/>
<line x1="255.5" y1="95" x2="255.5" y2="103.2" stroke="#8a8a8a" stroke-width="0.8"/>
<line x1="256.5" y1="95" x2="256.5" y2="103.2" stroke="#8a8a8a" stroke-width="0.8"/>
<line x1="258.5" y1="95" x2="258.5" y2="103.2" stroke="#8a8a8a" stroke-width="0.8"/>
<line x1="259.5" y1="95" x2="259.5" y2="103.2" stroke="#8a8a8a" stroke-width="0.8"/>
<line x1="260.5" y1="95" x2="260.5" y2="103.2" stroke="#8a8a8a" stroke-width="0.8"/>
<line x1="262.5" y1="95" x2="262.5" y2="103.2" stroke="#8a8a8a" stroke-width="0.8"/>
<line x1="263.5" y1="95" x2="263.5" y2="103.2" stroke="#8a8a8a" stroke-width="0.8"/>
<rect x="252.6" y="101.8" width="1.6" height="1.4" fill="#c0161e"/>
<rect x="252.6" y="103.1" width="1.6" height="1.2" fill="#2e3ea2"/>
<line x1="264.5" y1="94.2" x2="264.5" y2="103.2" stroke="#8c8c8c" stroke-width="0.8"/>
<path d="M264,93.45 L328,93.45 M264,94.95 L328,94.95" fill="none" stroke="#9a9a9a" stroke-width="0.7"/>
<path d="M285.4,103 L285.4,95.8 Q286.8,94.4 288.2,95.8 L288.2,103 M288.85,103 L288.85,95.8 Q290.25,94.4 291.65,95.8 L291.65,103 M292.3,103 L292.3,95.8 Q293.7,94.4 295.1,95.8 L295.1,103 M295.75,103 L295.75,95.8 Q297.15,94.4 298.55,95.8 L298.55,103 M299.2,103 L299.2,95.8 Q300.6,94.4 302,95.8 L302,103 " fill="none" stroke="#8c8c8c" stroke-width="0.8"/>
<line x1="328.5" y1="94.2" x2="328.5" y2="103.4" stroke="#8c8c8c" stroke-width="0.8"/>
<path d="M328.6,103.6 C330,102.2 334,101.4 345,101.3 L442,101.3 L442,103.2 L330,103.6 Z" fill="#c8c8c8"/>
<path d="M328.2,103.4 C330,102.2 334,101.4 345,101.3 L442,101.3 M328.2,103.7 L442,103.1" fill="none" stroke="#999" stroke-width="0.7"/>
<line x1="351.5" y1="95.1" x2="351.5" y2="102.5" stroke="#8c8c8c" stroke-width="0.8"/>
<path d="M372,102.5 L372,95 Q372.7,93.8 373.4,95 L373.4,102.5 M373.9,102.5 L373.9,95 Q374.6,93.8 375.3,95 L375.3,102.5 M375.8,102.5 L375.8,95 Q376.5,93.8 377.2,95 L377.2,102.5 M377.7,102.5 L377.7,95 Q378.4,93.8 379.1,95 L379.1,102.5 M379.6,102.5 L379.6,95 Q380.3,93.8 381,95 L381,102.5 " fill="none" stroke="#777" stroke-width="0.8"/>
<path d="M404.4,102.5 L405.2,95 Q405.6,94 406,95 L407,102.5 L409.2,95 Q409.6,94 410,95 L411,102.5 L413.2,95 Q413.6,94 414,95 L415,102.5 L417.2,95 Q417.6,94 418,95 L419,102.5 L421.2,95 Q421.6,94 422,95 L423,102.5 L424.2,95 L425.2,95 L425.6,102.5" fill="none" stroke="#777" stroke-width="0.8"/>
<path d="M442.5,94.5 L563.3,94.5 M442.5,95.7 L563.3,95.7" fill="none" stroke="#9a9a9a" stroke-width="0.7"/>
<path d="M466.6,95.5 L467.3,115.8 L468,95.5" fill="none" stroke="#8c8c8c" stroke-width="0.8"/>
<path d="M488.9,95 L489.3,114 L489.8,95.6 Q490.7,93.4 491.3,95.4" fill="none" stroke="#8c8c8c" stroke-width="0.8"/>
<path d="M492.3,95 L492.7,114 L493.2,95.6 Q494.1,93.4 494.7,95.4" fill="none" stroke="#8c8c8c" stroke-width="0.8"/>
<path d="M495.7,95 L496.1,114 L496.6,95.6 Q497.5,93.4 498.1,95.4" fill="none" stroke="#8c8c8c" stroke-width="0.8"/>
<path d="M499,95 L499.4,114 L499.9,95.6 Q500.8,93.4 501.4,95.4" fill="none" stroke="#8c8c8c" stroke-width="0.8"/>
<path d="M502.4,95 L502.8,114 L503.3,95.6 Q504.2,93.4 504.8,95.4" fill="none" stroke="#8c8c8c" stroke-width="0.8"/>
<rect x="488.6" y="112" width="1.7" height="3" fill="#c0161e"/>
<path d="M521.8,95 L522.2,115.5 L522.7,95.6 Q523.6,93.4 524.2,95.4" fill="none" stroke="#8c8c8c" stroke-width="0.8"/>
<path d="M526,95 L526.4,115.5 L526.9,95.6 Q527.8,93.4 528.4,95.4" fill="none" stroke="#8c8c8c" stroke-width="0.8"/>
<path d="M530.4,95 L530.8,115.5 L531.3,95.6 Q532.2,93.4 532.8,95.4" fill="none" stroke="#8c8c8c" stroke-width="0.8"/>
<path d="M534.9,95 L535.3,115.5 L535.8,95.6 Q536.7,93.4 537.3,95.4" fill="none" stroke="#8c8c8c" stroke-width="0.8"/>
<path d="M539.3,95 L539.7,115.5 L540.2,95.6 Q541.1,93.4 541.7,95.4" fill="none" stroke="#8c8c8c" stroke-width="0.8"/>
<path d="M543.7,95 L544.1,115.5 L544.6,95.6 Q545.5,93.4 546.1,95.4" fill="none" stroke="#8c8c8c" stroke-width="0.8"/>
<rect x="521.4" y="113.5" width="1.7" height="3" fill="#c0161e"/>
<line x1="563.5" y1="95.1" x2="563.5" y2="116" stroke="#8c8c8c" stroke-width="0.8"/>
<rect x="562.6" y="113.8" width="1.7" height="3.2" fill="#c0161e"/>
<path d="M563.8,114 C564.5,110 567,108.6 575,108.6 L668,108.6 M563.8,115 C565,113.5 567,113.1 575,113.1 L668,113.1" fill="none" stroke="#8c8c8c" stroke-width="0.8"/>
<line x1="586.5" y1="93.4" x2="586.5" y2="119.4" stroke="#808080" stroke-width="0.9"/>
<line x1="608.5" y1="93.4" x2="608.5" y2="113.2" stroke="#808080" stroke-width="0.9"/>
<line x1="610.5" y1="93.4" x2="610.5" y2="113.2" stroke="#808080" stroke-width="0.9"/>
<line x1="611.5" y1="93.4" x2="611.5" y2="113.2" stroke="#808080" stroke-width="0.9"/>
<line x1="613.5" y1="93.4" x2="613.5" y2="113.2" stroke="#808080" stroke-width="0.9"/>
<line x1="615.5" y1="93.4" x2="615.5" y2="113.2" stroke="#808080" stroke-width="0.9"/>
<line x1="617.5" y1="93.4" x2="617.5" y2="113.2" stroke="#808080" stroke-width="0.9"/>
<line x1="642.5" y1="93.4" x2="642.5" y2="113.2" stroke="#808080" stroke-width="0.9"/>
<line x1="646.5" y1="93.4" x2="646.5" y2="113.2" stroke="#808080" stroke-width="0.9"/>
<line x1="650.5" y1="93.4" x2="650.5" y2="113.2" stroke="#808080" stroke-width="0.9"/>
<line x1="655.5" y1="93.4" x2="655.5" y2="113.2" stroke="#808080" stroke-width="0.9"/>
<line x1="659.5" y1="93.4" x2="659.5" y2="113.2" stroke="#808080" stroke-width="0.9"/>
<text x="226" y="52.8" font-size="13" fill="#5cb04c" stroke="#5cb04c" stroke-width="0.25">V<tspan font-size="8.4" dy="2.6">DS</tspan><tspan dy="-2.6" dx="1"> = -100 mV ; V</tspan><tspan font-size="8.4" dy="2.6">pulse</tspan><tspan dy="-2.6" dx="0.8"> = -100 mV</tspan></text>
<text x="458.8" y="52.8" font-size="13" fill="#e4842c" stroke="#e4842c" stroke-width="0.25">V<tspan font-size="8.4" dy="2.6">DS</tspan><tspan dy="-2.6" dx="1"> = +100 mV ; V</tspan><tspan font-size="8.4" dy="2.6">pulse</tspan><tspan dy="-2.6" dx="0.8"> = -100 mV</tspan></text>
<text x="231.2" y="85.8" font-size="13" fill="#d4b62a" stroke="#d4b62a" stroke-width="0.25">V<tspan font-size="8.4" dy="2.6">DS</tspan><tspan dy="-2.6" dx="1"> = -100 mV ; V</tspan><tspan font-size="8.4" dy="2.6">pulse</tspan><tspan dy="-2.6" dx="0.8"> = +100 mV</tspan></text>
<text x="454.8" y="85.8" font-size="13" fill="#5a86cc" stroke="#5a86cc" stroke-width="0.25">V<tspan font-size="8.4" dy="2.6">DS</tspan><tspan dy="-2.6" dx="1"> = +100 mV ; V</tspan><tspan font-size="8.4" dy="2.6">pulse</tspan><tspan dy="-2.6" dx="0.8"> = +100 mV</tspan></text>
<text x="213.1" y="139" font-size="10" fill="#111" stroke="#111" stroke-width="0.25">2 µA</text>
<path d="M239.1,129.6 L239.1,141 M237.3,129.6 L240.9,129.6 M237.3,141 L240.9,141" stroke="#111" stroke-width="1.4" fill="none"/>
<text x="254.7" y="135.6" font-size="10" fill="#111" stroke="#111" stroke-width="0.25">5 s</text>
<path d="M250.3,139.4 L271.5,139.4 M250.3,137.3 L250.3,141.4 M271.5,137.3 L271.5,141.4" stroke="#111" stroke-width="1.4" fill="none"/>
<linearGradient id="pg" x1="0" y1="191.8" x2="0" y2="204.8" gradientUnits="userSpaceOnUse"><stop offset="0" stop-color="#2c3ca4"/><stop offset="0.45" stop-color="#4a4aa8"/><stop offset="0.8" stop-color="#b03a5a"/><stop offset="1" stop-color="#d42828"/></linearGradient>
<text x="5" y="160.7" font-size="8.5" font-weight="bold" fill="#111" stroke="#111" stroke-width="0.00">c</text>
<linearGradient id="gl" gradientUnits="userSpaceOnUse" x1="67" y1="0" x2="100" y2="0"><stop offset="0" stop-color="#b41c24"/><stop offset="0.28" stop-color="#a8141c"/><stop offset="0.46" stop-color="#b8262e"/><stop offset="0.66" stop-color="#e4a4ac"/><stop offset="0.8" stop-color="#c8bce0"/><stop offset="1" stop-color="#5060b8"/></linearGradient>
<polyline points="4.8,194.3 8,197.3 10.2,199.7 10.7,200.7 12.9,201.3 14.5,203.1 20.4,207.9 29.5,215.5 37.5,222.6 45.5,230.5 52.5,238.5 56.5,243.6 60.5,245.2 67.5,245" fill="none" stroke="#a81a22" stroke-width="1.55" stroke-linejoin="round"/>
<polyline points="4.8,194.3 4.8,200.5 7,201.5 12.3,206.1 16.1,209.6 22.5,215 24.7,218.2 30.6,222.5 34.3,225 45,236.5 50.5,243 54.2,248.9" fill="none" stroke="#a81a22" stroke-width="1.55" stroke-linejoin="round"/>
<path d="M54.2,248.9 L53.8,252 L54.4,254.5 L53.4,257 L53.6,260.6" transform="translate(0,0)" fill="none" stroke="#a81a22" stroke-width="1.3" stroke-linecap="round"/>
<path d="M54.2,248.9 L57.5,250.2 L59.5,249.8 L61,251.5 L62.8,253.3" transform="translate(0,0)" fill="none" stroke="#a81a22" stroke-width="1.3" stroke-linecap="round"/>
<path d="M57.5,250.2 L58,252.5" transform="translate(0,0)" fill="none" stroke="#a81a22" stroke-width="1.3" stroke-linecap="round"/>
<path d="M55.8,247.6 L58.2,246.4 L60.5,245.8" transform="translate(0,0)" fill="none" stroke="#a81a22" stroke-width="1.3" stroke-linecap="round"/>
<path d="M61,245.2 L62,242.6 L63.8,243.2" transform="translate(0,0)" fill="none" stroke="#a81a22" stroke-width="1.3" stroke-linecap="round"/>
<path d="M63.5,245.2 L64.5,246.8 L66,246.2" transform="translate(0,0)" fill="none" stroke="#a81a22" stroke-width="1.3" stroke-linecap="round"/>
<path d="M53.9,255 L52.4,256.2" transform="translate(0,0)" fill="none" stroke="#a81a22" stroke-width="1.3" stroke-linecap="round"/>
<path d="M58,246 L61,245 L64,244.6 L66.5,243.4 L69,243.8" transform="translate(0,0)" fill="none" stroke="#a81a22" stroke-width="1.3" stroke-linecap="round"/>
<path d="M60,246 L61.4,249.5 L62.4,252.5" transform="translate(0,0)" fill="none" stroke="#a81a22" stroke-width="1.3" stroke-linecap="round"/>
<circle cx="62.8" cy="253.3" r="0.9" fill="#a81a22"/>
<g transform="translate(0,0)">
<path d="M68.6,244.2 L69,239.5 L69.4,236 L71.3,234.2 L74.6,233.6 L76.4,234.4 L78.6,232.8 L81.2,231.3 L82.8,233.2 L84.5,236 L86.2,236.2 L88.4,235 L90.6,235.4 L92.6,236 L94.5,236.6 L96,238.5 L95.5,241 L94,242.5 L95.5,244.5 L96.5,247 L96,250 L94.5,252.5 L93.3,254 L91,255 L89.1,255 L87.8,254.7 L85.6,258 L81.2,258.8 L76.8,256 L73.5,251.6 L70.9,248.8 L68.6,247 Z" fill="url(#gl)"/>
<path d="M70.8,236.8 L72.6,235.8 L74.8,236.4 L75.4,238.6 L74.8,241.2 L73,242 L71.2,241.2 L70.6,239 Z" fill="#fff"/>
<path d="M72.6,247.6 L75.6,247.2 L76,249.4 L74.2,250.2 L72.8,249.6 Z" fill="#fff"/>
<path d="M85,237.8 L87.4,236.8 L89.6,237.6 L89.8,240.2 L88.4,241.8 L86,241.6 L85,239.8 Z" fill="#fff"/>
<path d="M85.2,247.6 L87.6,246.4 L90.8,246.8 L93.6,248.4 L93.2,251.8 L90.4,253.6 L87.2,253.2 L85.4,251 Z" fill="#fff"/>
<path d="M93.4,236.2 C95.4,233.8 97.6,236.6 99.2,235 C100.6,233.6 102.4,236.2 101.6,238.6 C100.8,240.8 98.4,239.6 97.6,241.8" fill="none" stroke="#2c3c9e" stroke-width="1.0" stroke-linecap="round" opacity="0.85"/>
<path d="M96.8,243.4 C98.6,241.8 100.8,243.8 102.6,242.6 C104.2,241.4 105.2,244.2 104,245.8" fill="none" stroke="#2c3c9e" stroke-width="1.0" stroke-linecap="round" opacity="0.85"/>
<path d="M95.8,248 C97.8,246.6 99.4,249.8 101.4,248.6 C103.2,247.4 104.2,250.6 106.4,250 C108.4,249.4 109.6,252 111.6,251.6 L113.4,253" fill="none" stroke="#2c3c9e" stroke-width="1.0" stroke-linecap="round" opacity="0.85"/>
<path d="M94.8,252.4 C96.8,251.2 98.6,254.4 100.6,253.4 C102.2,252.6 103,255.2 104.8,254.6" fill="none" stroke="#2c3c9e" stroke-width="1.0" stroke-linecap="round" opacity="0.85"/>
<path d="M100.2,232.7 L102.4,236 L103.9,240 L103.9,248 L104.2,254.2" fill="none" stroke="#2c3c9e" stroke-width="1.0" stroke-linecap="round" opacity="0.85"/>
<path d="M106.5,250 L108.2,253.2" fill="none" stroke="#2c3c9e" stroke-width="1.0" stroke-linecap="round" opacity="0.85"/>
<path d="M95.5,238.6 C97,237 98.6,239.6 100,238.4 C101.4,237.2 102.6,239.8 101.4,241.2" fill="none" stroke="#2c3c9e" stroke-width="1.0" stroke-linecap="round" opacity="0.85"/>
<path d="M97,245.2 C98.4,244 99.6,246.2 101,245.4 C102.4,244.6 103.2,246.8 102.2,248" fill="none" stroke="#2c3c9e" stroke-width="1.0" stroke-linecap="round" opacity="0.85"/>
<path d="M98.4,250.6 C99.6,249.6 100.6,251.8 102,251 C103.4,250.2 104.4,252.4 103.2,253.4" fill="none" stroke="#2c3c9e" stroke-width="1.0" stroke-linecap="round" opacity="0.85"/>
<path d="M104,247.5 C105.6,246.6 106.2,248.8 107.6,248.2 C109,247.6 110,249.8 111.4,249.6 L112.8,251" fill="none" stroke="#2c3c9e" stroke-width="1.0" stroke-linecap="round" opacity="0.85"/>
<circle cx="100.2" cy="232.9" r="1.0" fill="#2c3c9e"/>
<circle cx="113.3" cy="253" r="1.0" fill="#2c3c9e"/>
</g>
<polyline points="103.5,243.9 110,242.6 116,241.6 124.4,241.1 137,242.2 156.3,243.1 156.6,246.9" fill="none" stroke="#2c3c9e" stroke-width="1.3" stroke-linejoin="round"/>
<polyline points="104.5,249 110,247 116,245.6 124.4,244.6 137,245.8 156.6,246.9" fill="none" stroke="#2c3c9e" stroke-width="1.3" stroke-linejoin="round"/>
<path d="M100.6,191.6 L84.2,204.3 Q82.2,206.6 84.3,207.9 Q85.9,208.7 87.5,207.5 L106.6,192.2" fill="none" stroke="#2c3c9e" stroke-width="1.5" stroke-linejoin="round"/>
<line x1="100.3" y1="191.6" x2="161.5" y2="191.6" stroke="#2c3c9e" stroke-width="1.6"/>
<line x1="110.9" y1="191.8" x2="110.9" y2="204.8" stroke="url(#pg)" stroke-width="0.95"/>
<line x1="112.5" y1="191.8" x2="112.5" y2="204.8" stroke="url(#pg)" stroke-width="0.95"/>
<line x1="113.8" y1="191.8" x2="113.8" y2="204.8" stroke="url(#pg)" stroke-width="0.95"/>
<line x1="121.5" y1="191.8" x2="121.5" y2="204.8" stroke="url(#pg)" stroke-width="0.95"/>
<line x1="123.13" y1="191.8" x2="123.13" y2="204.8" stroke="url(#pg)" stroke-width="0.95"/>
<line x1="124.76" y1="191.8" x2="124.76" y2="204.8" stroke="url(#pg)" stroke-width="0.95"/>
<line x1="126.39" y1="191.8" x2="126.39" y2="204.8" stroke="url(#pg)" stroke-width="0.95"/>
<line x1="128.02" y1="191.8" x2="128.02" y2="204.8" stroke="url(#pg)" stroke-width="0.95"/>
<line x1="129.65" y1="191.8" x2="129.65" y2="204.8" stroke="url(#pg)" stroke-width="0.95"/>
<line x1="131.28" y1="191.8" x2="131.28" y2="204.8" stroke="url(#pg)" stroke-width="0.95"/>
<line x1="132.91" y1="191.8" x2="132.91" y2="204.8" stroke="url(#pg)" stroke-width="0.95"/>
<line x1="134.54" y1="191.8" x2="134.54" y2="204.8" stroke="url(#pg)" stroke-width="0.95"/>
<line x1="143.4" y1="191.8" x2="143.4" y2="204.8" stroke="url(#pg)" stroke-width="0.95"/>
<line x1="144.9" y1="191.8" x2="144.9" y2="204.8" stroke="url(#pg)" stroke-width="0.95"/>
<line x1="146.4" y1="191.8" x2="146.4" y2="204.8" stroke="url(#pg)" stroke-width="0.95"/>
<line x1="147.9" y1="191.8" x2="147.9" y2="204.8" stroke="url(#pg)" stroke-width="0.95"/>
<line x1="149.4" y1="191.8" x2="149.4" y2="204.8" stroke="url(#pg)" stroke-width="0.95"/>
<line x1="150.9" y1="191.8" x2="150.9" y2="204.8" stroke="url(#pg)" stroke-width="0.95"/>
<line x1="152.4" y1="191.8" x2="152.4" y2="204.8" stroke="url(#pg)" stroke-width="0.95"/>
<line x1="155.7" y1="191.8" x2="155.7" y2="204.8" stroke="url(#pg)" stroke-width="0.95"/>
<line x1="157.4" y1="191.8" x2="157.4" y2="204.8" stroke="url(#pg)" stroke-width="0.95"/>
<line x1="159" y1="191.8" x2="159" y2="204.8" stroke="url(#pg)" stroke-width="0.95"/>
<linearGradient id="gr" gradientUnits="userSpaceOnUse" x1="62" y1="0" x2="86" y2="0"><stop offset="0" stop-color="#9aa2d8"/><stop offset="0.25" stop-color="#e2b4c2"/><stop offset="0.45" stop-color="#d05462"/><stop offset="0.6" stop-color="#b41c24"/><stop offset="1" stop-color="#b0161e"/></linearGradient>
<polyline points="201.3,194.3 204.5,197.3 206.7,199.7 207.2,200.7 209.4,201.3 211,203.1 216.9,207.9 226,215.5 234,222.6 242,230.5 249,238.5 254.1,245.2 251.7,248.4" fill="none" stroke="#2c3c9e" stroke-width="1.55" stroke-linejoin="round"/>
<polyline points="201.3,194.3 201.3,200.5 203.5,201.5 208.8,206.1 212.6,209.6 219,215 221.2,218.2 227.1,222.5 230.8,225 241.5,236.5 247,243 250.7,248.9" fill="none" stroke="#2c3c9e" stroke-width="1.55" stroke-linejoin="round"/>
<path d="M247,243 L250.7,248.9 L254.9,248" fill="none" stroke="#2c3c9e" stroke-width="1.3"/>
<path d="M250.5,249 C252.1,250 252.1,252 250.5,252.2 C248.9,252.4 249.1,250.4 250.5,250.6 C252.1,252.4 252.1,254.4 250.5,254.6 C248.9,254.8 249.1,252.8 250.5,253 C252.1,254.8 252.1,256.8 250.5,257 C248.9,257.2 249.1,255.2 250.5,255.4 C252.1,257.2 252.1,259.2 250.5,259.4 C248.9,259.6 249.1,257.6 250.5,257.8 C252.1,259.6 252.1,261.6 250.5,261.8 C248.9,262 249.1,260 250.5,260.2 " fill="none" stroke="#5a66c0" stroke-width="0.9"/>
<g transform="translate(196.5,0)">
<path d="M58.5,247.5 C60,245.5 61.5,248.5 63,246.5 C64.5,244.5 66,247.5 67.5,246" fill="none" stroke="#7c84cc" stroke-width="1.15" stroke-linecap="round"/>
<path d="M59.5,244 C61,242.5 62,245 63.5,243.5 C64.5,242.5 65.5,244 66.5,242.5 C67.5,241 68.5,242 69,240.5" fill="none" stroke="#7c84cc" stroke-width="1.15" stroke-linecap="round"/>
<path d="M60,250 C61.5,249 62.5,251.5 64,250.5 C65.5,249.5 66.5,251.5 68,250.5" fill="none" stroke="#7c84cc" stroke-width="1.15" stroke-linecap="round"/>
<path d="M61.6,251 C62.8,252 62.4,254 61.2,253.6 C60.2,253.2 60.6,251.6 61.6,251" fill="none" stroke="#7c84cc" stroke-width="1.15" stroke-linecap="round"/>
<path d="M68.6,244.2 L69,239.5 L69.4,236 L71.3,234.2 L74.6,233.6 L76.4,234.4 L78.6,232.8 L81.2,231.3 L82.8,233.2 L84.5,236 L86.2,236.2 L88.4,235 L90.6,235.4 L92.6,236 L94.5,236.6 L96,238.5 L95.5,241 L94,242.5 L95.5,244.5 L96.5,247 L96,250 L94.5,252.5 L93.3,254 L91,255 L89.1,255 L87.8,254.7 L85.6,258 L81.2,258.8 L76.8,256 L73.5,251.6 L70.9,248.8 L68.6,247 Z" fill="url(#gr)"/>
<path d="M92,236.5 L94.5,236 L96,237.2 L98.5,238.6 L101,239 L103.2,240.6 L104.5,243.2 L104,246.5 L104.6,249.6 L103.2,251.6 L100.5,252.2 L98,253.2 L96.2,254.6 L93.5,255 L91,254.6 Z" fill="#b41a22"/>
<path d="M93.2,240 L95.4,239.4 L96.6,241 L95.6,243 L93.6,242.8 Z" fill="#fff"/>
<path d="M98.2,245.2 L100.6,244.6 L101.8,246.6 L100.8,248.6 L98.6,248.4 L97.8,246.8 Z" fill="#fff"/>
<path d="M94.6,247.6 L96.4,247.2 L96.8,249 L95.2,249.8 Z" fill="#fff"/>
<path d="M70.8,236.8 L72.6,235.8 L74.8,236.4 L75.4,238.6 L74.8,241.2 L73,242 L71.2,241.2 L70.6,239 Z" fill="#fff"/>
<path d="M72.6,247.6 L75.6,247.2 L76,249.4 L74.2,250.2 L72.8,249.6 Z" fill="#fff"/>
<path d="M85,237.8 L87.4,236.8 L89.6,237.6 L89.8,240.2 L88.4,241.8 L86,241.6 L85,239.8 Z" fill="#fff"/>
<path d="M85.2,247.6 L87.6,246.4 L90.8,246.8 L93.6,248.4 L93.2,251.8 L90.4,253.6 L87.2,253.2 L85.4,251 Z" fill="#fff"/>
<path d="M93.4,236.2 C95.4,233.8 97.6,236.6 99.2,235 C100.6,233.6 102.4,236.2 101.6,238.6 C100.8,240.8 98.4,239.6 97.6,241.8" fill="none" stroke="#a81a22" stroke-width="1.2" stroke-linecap="round"/>
<path d="M96.8,243.4 C98.6,241.8 100.8,243.8 102.6,242.6 C104.2,241.4 105.2,244.2 104,245.8" fill="none" stroke="#a81a22" stroke-width="1.2" stroke-linecap="round"/>
<path d="M95.8,248 C97.8,246.6 99.4,249.8 101.4,248.6 C103.2,247.4 104.2,250.6 106.4,250 C108.4,249.4 109.6,252 111.6,251.6 L113.4,253" fill="none" stroke="#a81a22" stroke-width="1.2" stroke-linecap="round"/>
<path d="M94.8,252.4 C96.8,251.2 98.6,254.4 100.6,253.4 C102.2,252.6 103,255.2 104.8,254.6" fill="none" stroke="#a81a22" stroke-width="1.2" stroke-linecap="round"/>
<path d="M100.2,232.7 L102.4,236 L103.9,240 L103.9,248 L104.2,254.2" fill="none" stroke="#a81a22" stroke-width="1.2" stroke-linecap="round"/>
<path d="M106.5,250 L108.2,253.2" fill="none" stroke="#a81a22" stroke-width="1.2" stroke-linecap="round"/>
<path d="M95.5,238.6 C97,237 98.6,239.6 100,238.4 C101.4,237.2 102.6,239.8 101.4,241.2" fill="none" stroke="#a81a22" stroke-width="1.2" stroke-linecap="round"/>
<path d="M97,245.2 C98.4,244 99.6,246.2 101,245.4 C102.4,244.6 103.2,246.8 102.2,248" fill="none" stroke="#a81a22" stroke-width="1.2" stroke-linecap="round"/>
<path d="M98.4,250.6 C99.6,249.6 100.6,251.8 102,251 C103.4,250.2 104.4,252.4 103.2,253.4" fill="none" stroke="#a81a22" stroke-width="1.2" stroke-linecap="round"/>
<path d="M104,247.5 C105.6,246.6 106.2,248.8 107.6,248.2 C109,247.6 110,249.8 111.4,249.6 L112.8,251" fill="none" stroke="#a81a22" stroke-width="1.2" stroke-linecap="round"/>
<circle cx="100.2" cy="232.9" r="1.0" fill="#a81a22"/>
<circle cx="113.3" cy="253" r="1.0" fill="#a81a22"/>
</g>
<polyline points="300,243.9 306.5,242.6 312.5,241.6 320.9,241.1 333.5,242.2 352.8,243.1 353.1,246.9" fill="none" stroke="#a81a22" stroke-width="1.3" stroke-linejoin="round"/>
<polyline points="301,249 306.5,247 312.5,245.6 320.9,244.6 333.5,245.8 353.1,246.9" fill="none" stroke="#a81a22" stroke-width="1.3" stroke-linejoin="round"/>
<path d="M297.1,191.6 L280.7,204.3 Q278.7,206.6 280.8,207.9 Q282.4,208.7 284,207.5 L303.1,192.2" fill="none" stroke="#2c3c9e" stroke-width="1.5" stroke-linejoin="round"/>
<line x1="296.8" y1="191.6" x2="358" y2="191.6" stroke="#2c3c9e" stroke-width="1.6"/>
<line x1="307.4" y1="191.8" x2="307.4" y2="204.8" stroke="url(#pg)" stroke-width="0.95"/>
<line x1="309" y1="191.8" x2="309" y2="204.8" stroke="url(#pg)" stroke-width="0.95"/>
<line x1="310.3" y1="191.8" x2="310.3" y2="204.8" stroke="url(#pg)" stroke-width="0.95"/>
<line x1="318" y1="191.8" x2="318" y2="204.8" stroke="url(#pg)" stroke-width="0.95"/>
<line x1="319.63" y1="191.8" x2="319.63" y2="204.8" stroke="url(#pg)" stroke-width="0.95"/>
<line x1="321.26" y1="191.8" x2="321.26" y2="204.8" stroke="url(#pg)" stroke-width="0.95"/>
<line x1="322.89" y1="191.8" x2="322.89" y2="204.8" stroke="url(#pg)" stroke-width="0.95"/>
<line x1="324.52" y1="191.8" x2="324.52" y2="204.8" stroke="url(#pg)" stroke-width="0.95"/>
<line x1="326.15" y1="191.8" x2="326.15" y2="204.8" stroke="url(#pg)" stroke-width="0.95"/>
<line x1="327.78" y1="191.8" x2="327.78" y2="204.8" stroke="url(#pg)" stroke-width="0.95"/>
<line x1="329.41" y1="191.8" x2="329.41" y2="204.8" stroke="url(#pg)" stroke-width="0.95"/>
<line x1="331.04" y1="191.8" x2="331.04" y2="204.8" stroke="url(#pg)" stroke-width="0.95"/>
<line x1="339.9" y1="191.8" x2="339.9" y2="204.8" stroke="url(#pg)" stroke-width="0.95"/>
<line x1="341.4" y1="191.8" x2="341.4" y2="204.8" stroke="url(#pg)" stroke-width="0.95"/>
<line x1="342.9" y1="191.8" x2="342.9" y2="204.8" stroke="url(#pg)" stroke-width="0.95"/>
<line x1="344.4" y1="191.8" x2="344.4" y2="204.8" stroke="url(#pg)" stroke-width="0.95"/>
<line x1="345.9" y1="191.8" x2="345.9" y2="204.8" stroke="url(#pg)" stroke-width="0.95"/>
<line x1="347.4" y1="191.8" x2="347.4" y2="204.8" stroke="url(#pg)" stroke-width="0.95"/>
<line x1="348.9" y1="191.8" x2="348.9" y2="204.8" stroke="url(#pg)" stroke-width="0.95"/>
<line x1="352.2" y1="191.8" x2="352.2" y2="204.8" stroke="url(#pg)" stroke-width="0.95"/>
<line x1="353.9" y1="191.8" x2="353.9" y2="204.8" stroke="url(#pg)" stroke-width="0.95"/>
<line x1="355.5" y1="191.8" x2="355.5" y2="204.8" stroke="url(#pg)" stroke-width="0.95"/>
<line x1="36.9" y1="264.5" x2="36.9" y2="277.7" stroke="#b4b4b4" stroke-width="0.8"/>
<line x1="60.3" y1="264.5" x2="60.3" y2="277.7" stroke="#b4b4b4" stroke-width="0.8"/>
<line x1="62.4" y1="264.5" x2="62.4" y2="277.7" stroke="#b4b4b4" stroke-width="0.8"/>
<line x1="64.5" y1="264.5" x2="64.5" y2="277.7" stroke="#b4b4b4" stroke-width="0.8"/>
<line x1="66.6" y1="264.5" x2="66.6" y2="277.7" stroke="#b4b4b4" stroke-width="0.8"/>
<line x1="68.7" y1="264.5" x2="68.7" y2="277.7" stroke="#b4b4b4" stroke-width="0.8"/>
<line x1="70.8" y1="264.5" x2="70.8" y2="277.7" stroke="#b4b4b4" stroke-width="0.8"/>
<line x1="95" y1="264.5" x2="95" y2="277.7" stroke="#b4b4b4" stroke-width="0.8"/>
<line x1="99.6" y1="264.5" x2="99.6" y2="277.7" stroke="#b4b4b4" stroke-width="0.8"/>
<line x1="104.2" y1="264.5" x2="104.2" y2="277.7" stroke="#b4b4b4" stroke-width="0.8"/>
<line x1="108.8" y1="264.5" x2="108.8" y2="277.7" stroke="#b4b4b4" stroke-width="0.8"/>
<line x1="113.5" y1="264.5" x2="113.5" y2="277.7" stroke="#b4b4b4" stroke-width="0.8"/>
<line x1="16.8" y1="279.8" x2="142" y2="279.8" stroke="#1a1a1a" stroke-width="1.3" stroke-dasharray="1.3 1.35"/>
<line x1="16.8" y1="298.6" x2="142" y2="298.6" stroke="#9a9a9a" stroke-width="0.6"/>
<path d="M16.8,299.2 L36.2,301.4 L36.6,309.3 L37.2,283.6 L38,292.5 Q41,296.4 48,298.6 L59.6,301.4 L60.2,282.8 M70.8,283 L71,294.8 Q76,297.8 85,299.4 L94.5,300.2 L95,306.4 L95.6,284.4 L96.3,295 L99,296 L99.6,284.4 L100.3,295 L103.6,296 L104.2,284.4 L104.9,295 L108.2,296 L108.8,284.4 L109.5,295 L112.9,296 L113.5,284.4 L114.2,295 Q120,298.4 130,299.4 L142,300.2" fill="none" stroke="#a81a22" stroke-width="1.6" stroke-linejoin="round"/>
<path d="M60.2,295.6 L60.2,283.4 L61.8,282.2 L71,282 L71,295.2 Z" fill="#a81a22"/>
<line x1="227.3" y1="265.5" x2="227.3" y2="279.7" stroke="#b4b4b4" stroke-width="0.8"/>
<line x1="250.3" y1="265.5" x2="250.3" y2="279.7" stroke="#b4b4b4" stroke-width="0.8"/>
<line x1="251.65" y1="265.5" x2="251.65" y2="279.7" stroke="#b4b4b4" stroke-width="0.8"/>
<line x1="253" y1="265.5" x2="253" y2="279.7" stroke="#b4b4b4" stroke-width="0.8"/>
<line x1="254.35" y1="265.5" x2="254.35" y2="279.7" stroke="#b4b4b4" stroke-width="0.8"/>
<line x1="255.7" y1="265.5" x2="255.7" y2="279.7" stroke="#b4b4b4" stroke-width="0.8"/>
<line x1="257.05" y1="265.5" x2="257.05" y2="279.7" stroke="#b4b4b4" stroke-width="0.8"/>
<line x1="258.4" y1="265.5" x2="258.4" y2="279.7" stroke="#b4b4b4" stroke-width="0.8"/>
<line x1="259.75" y1="265.5" x2="259.75" y2="279.7" stroke="#b4b4b4" stroke-width="0.8"/>
<line x1="284.9" y1="265.5" x2="284.9" y2="279.7" stroke="#b4b4b4" stroke-width="0.8"/>
<line x1="289.6" y1="265.5" x2="289.6" y2="279.7" stroke="#b4b4b4" stroke-width="0.8"/>
<line x1="294.3" y1="265.5" x2="294.3" y2="279.7" stroke="#b4b4b4" stroke-width="0.8"/>
<line x1="299" y1="265.5" x2="299" y2="279.7" stroke="#b4b4b4" stroke-width="0.8"/>
<line x1="303.8" y1="265.5" x2="303.8" y2="279.7" stroke="#b4b4b4" stroke-width="0.8"/>
<line x1="206.3" y1="281.8" x2="332" y2="281.8" stroke="#1a1a1a" stroke-width="1.3" stroke-dasharray="1.3 1.35"/>
<line x1="206.3" y1="297.2" x2="332" y2="297.2" stroke="#9a9a9a" stroke-width="0.6"/>
<path d="M206.3,298 L226.8,299.6 L227.3,290.6 L228,293 Q231,296 240,297.6 L249.8,299 L250.3,291 M259.8,287 L260.4,290.6 Q268,296 284.4,298.6 L284.9,302.2 L285.4,289.6 L286.2,294.5 L288.8,296 L289.6,289.6 L290.3,294.5 L293.8,296 L294.3,289.6 L295,294.5 L298.5,296 L299,289.6 L299.7,294.5 L303.2,296 L303.4,299.5 L303.8,289.2 L304.5,293.5 Q312,297 332,298.6" fill="none" stroke="#a81a22" stroke-width="1.6" stroke-linejoin="round"/>
<path d="M250.3,294.5 L250.3,289.5 L251.5,288.8 L252.5,289.6 L253.5,287.8 L254.5,288.6 L255.5,287 L256.5,287.8 L257.5,286.2 L258.5,287 L259.8,285.6 L259.8,292 L257,293.4 L253,294.2 Z" fill="#a81a22"/>
<text x="-0.3" y="179.6" font-size="13" fill="#e4842c" stroke="#e4842c" stroke-width="0.25">V<tspan font-size="8.4" dy="2.8">DS</tspan><tspan dy="-2.8" dx="0.9"> = +100 mV; V</tspan><tspan font-size="8.4" dy="2.8">pulse</tspan><tspan dy="-2.8" dx="0.9"> = -100 mV</tspan></text>
<text x="199" y="179.4" font-size="13" fill="#5cb04c" stroke="#5cb04c" stroke-width="0.25">V<tspan font-size="8.4" dy="2.8">DS</tspan><tspan dy="-2.8" dx="0.9"> = -100 mV; V</tspan><tspan font-size="8.4" dy="2.8">pulse</tspan><tspan dy="-2.8" dx="0.9"> = -100 mV</tspan></text>
<text x="5" y="218.9" font-size="11" fill="#111" stroke="#111" stroke-width="0.25">0</text>
<text x="69.8" y="207.4" font-size="12" fill="#111" stroke="#111" stroke-width="0.25">G</text>
<text x="163.2" y="195.5" font-size="11" fill="#111" stroke="#111" stroke-width="0.25">+0.1</text>
<text x="163.8" y="208.6" font-size="11" fill="#111" stroke="#111" stroke-width="0.25">0</text>
<text x="37.2" y="253.2" font-size="12" fill="#111" stroke="#111" stroke-width="0.25">S</text>
<text x="109.4" y="239.6" font-size="11.5" fill="#111" stroke="#111" stroke-width="0.25">D</text>
<text x="137.3" y="239.3" font-size="11" fill="#111" stroke="#111" stroke-width="0.25">+0.1</text>
<text x="201.6" y="218.7" font-size="11" fill="#111" stroke="#111" stroke-width="0.25">0</text>
<text x="266" y="206.9" font-size="12" fill="#111" stroke="#111" stroke-width="0.25">G</text>
<text x="360.3" y="193.6" font-size="11" fill="#111" stroke="#111" stroke-width="0.25">0</text>
<text x="357" y="206.6" font-size="11" fill="#111" stroke="#111" stroke-width="0.25">-0.1</text>
<text x="233" y="253.6" font-size="12" fill="#111" stroke="#111" stroke-width="0.25">S</text>
<text x="305.6" y="240.2" font-size="11.5" fill="#111" stroke="#111" stroke-width="0.25">D</text>
<text x="335.4" y="238" font-size="11" fill="#111" stroke="#111" stroke-width="0.25">-0.1</text>
<text x="143.6" y="282.6" font-size="12.5" fill="#111" stroke="#111" stroke-width="0.25">|i<tspan font-size="8.6" dy="2.6">S</tspan><tspan dy="-2.6">|</tspan><tspan font-size="8.4" dy="-5.6">max</tspan></text>
<text x="143.4" y="299.6" font-size="12.5" fill="#111" stroke="#111" stroke-width="0.25">i<tspan font-size="8.6" dy="2.6">S</tspan><tspan dy="-2.6">(0)</tspan></text>
<text x="333.6" y="284.5" font-size="12.5" fill="#111" stroke="#111" stroke-width="0.25">|i<tspan font-size="8.6" dy="2.6">D</tspan><tspan dy="-2.6">|</tspan><tspan font-size="8.4" dy="-5.6">max</tspan></text>
<text x="333.6" y="301.5" font-size="12.5" fill="#111" stroke="#111" stroke-width="0.25">i<tspan font-size="8.6" dy="2.6">D</tspan><tspan dy="-2.6">(0)</tspan></text>
</svg>
</body></html>
